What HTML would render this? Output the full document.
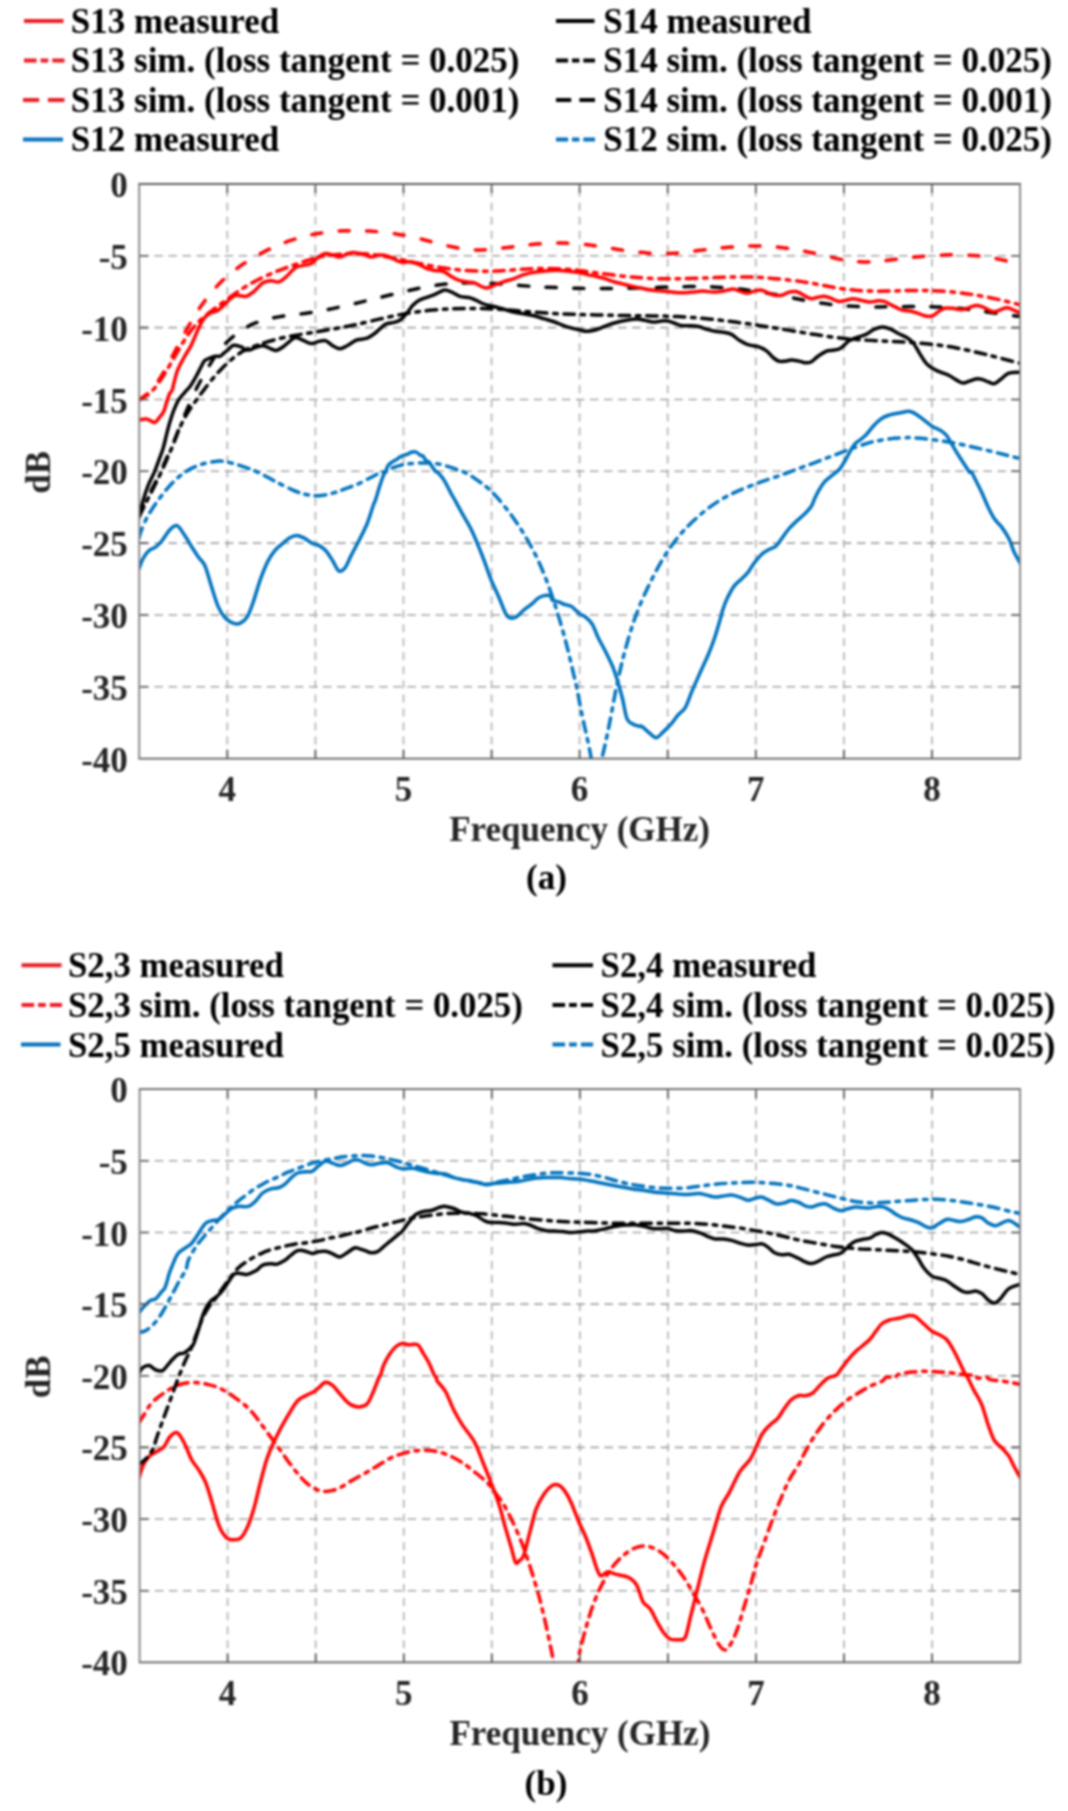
<!DOCTYPE html>
<html><head><meta charset="utf-8"><style>html,body{margin:0;padding:0;background:#fff;overflow:hidden}svg{display:block;filter:blur(0.8px)}</style></head><body>
<svg width="1068" height="1811" viewBox="0 0 1068 1811">
<rect width="1068" height="1811" fill="#fff"/>
<path d="M24,20.9 H63.5" stroke="#ed1c24" stroke-width="4"/>
<text x="70.8" y="32.6" font-family="Liberation Serif" font-weight="bold" font-size="35" fill="#000">S13 measured</text>
<path d="M24,60.5 h12.6 M40.6,60.5 h7.7 M52.3,60.5 h12.2" stroke="#ed1c24" stroke-width="4"/>
<text x="70.8" y="72.1" font-family="Liberation Serif" font-weight="bold" font-size="35" fill="#000">S13 sim. (loss tangent = 0.025)</text>
<path d="M23,99.9 h16.2 M47.9,99.9 h16.6" stroke="#ed1c24" stroke-width="4"/>
<text x="70.8" y="111.7" font-family="Liberation Serif" font-weight="bold" font-size="35" fill="#000">S13 sim. (loss tangent = 0.001)</text>
<path d="M23,139.4 H63" stroke="#0571bd" stroke-width="4"/>
<text x="70.8" y="151.2" font-family="Liberation Serif" font-weight="bold" font-size="35" fill="#000">S12 measured</text>
<path d="M556,20.9 H594.5" stroke="#000" stroke-width="4"/>
<text x="603.2" y="32.6" font-family="Liberation Serif" font-weight="bold" font-size="35" fill="#000">S14 measured</text>
<path d="M556,60.5 h12.1 M572.0,60.5 h7.4 M583.3,60.5 h11.7" stroke="#000" stroke-width="4"/>
<text x="603.2" y="72.1" font-family="Liberation Serif" font-weight="bold" font-size="35" fill="#000">S14 sim. (loss tangent = 0.025)</text>
<path d="M556,99.9 h15.2 M579.4,99.9 h15.6" stroke="#000" stroke-width="4"/>
<text x="603.2" y="111.7" font-family="Liberation Serif" font-weight="bold" font-size="35" fill="#000">S14 sim. (loss tangent = 0.001)</text>
<path d="M556,139.4 h12.1 M572.0,139.4 h7.4 M583.3,139.4 h11.7" stroke="#0571bd" stroke-width="4"/>
<text x="603.2" y="151.2" font-family="Liberation Serif" font-weight="bold" font-size="35" fill="#000">S12 sim. (loss tangent = 0.025)</text>
<path d="M227.3,758.6 V184.0 M315.4,758.6 V184.0 M403.5,758.6 V184.0 M491.6,758.6 V184.0 M579.6,758.6 V184.0 M667.7,758.6 V184.0 M755.8,758.6 V184.0 M843.9,758.6 V184.0 M932.0,758.6 V184.0" stroke="#bcbcbc" stroke-width="1.9" stroke-dasharray="8 6.05" fill="none"/>
<path d="M139.2,255.8 H1020.1 M139.2,327.6 H1020.1 M139.2,399.5 H1020.1 M139.2,471.3 H1020.1 M139.2,543.1 H1020.1 M139.2,615.0 H1020.1 M139.2,686.8 H1020.1" stroke="#a4a4a4" stroke-width="1.6" stroke-dasharray="8.5 5.55" stroke-dashoffset="-1.2" fill="none"/>
<clipPath id="ca"><rect x="139.2" y="184.0" width="880.9000000000001" height="574.6"/></clipPath>
<g clip-path="url(#ca)" fill="none">
<path d="M139.0,537.9C139.4,536.6 140.0,533.6 141.3,530.3C142.6,527.0 144.8,521.8 146.7,518.0C148.6,514.3 150.7,511.2 152.9,507.8C155.1,504.4 157.6,501.0 159.9,497.9C162.2,494.7 164.4,491.9 166.8,489.1C169.2,486.2 172.0,483.2 174.6,480.7C177.2,478.2 179.7,476.0 182.3,474.1C184.9,472.2 187.2,470.6 190.0,469.1C192.8,467.6 196.2,466.1 199.3,465.0C202.4,463.9 205.3,463.2 208.6,462.6C211.9,461.9 216.9,461.3 219.0,461.1C221.1,460.9 220.0,460.9 221.4,461.1C222.8,461.3 224.8,461.5 227.6,462.1C230.3,462.7 234.1,463.7 237.9,464.8C241.7,466.0 247.4,468.0 250.2,469.0C252.9,470.0 252.3,469.7 254.4,470.7C256.5,471.6 260.6,473.5 262.6,474.6C264.7,475.6 264.6,475.6 266.7,476.8C268.8,477.9 272.9,480.2 275.0,481.3C277.1,482.4 277.1,482.3 279.1,483.4C281.2,484.4 285.2,486.5 287.3,487.5C289.4,488.5 289.3,488.5 291.4,489.4C293.5,490.3 297.6,492.1 299.7,492.8C301.8,493.6 301.8,493.6 303.8,494.1C305.9,494.5 309.9,495.3 312.0,495.6C314.1,495.9 314.1,495.8 316.2,495.8C318.3,495.7 322.3,495.3 324.4,495.1C326.4,494.8 326.4,494.8 328.5,494.3C330.6,493.8 334.7,492.6 336.8,492.0C338.9,491.4 338.8,491.3 340.9,490.5C342.9,489.8 347.1,488.1 349.1,487.4C351.2,486.6 351.6,486.5 353.2,485.9C354.8,485.2 356.3,484.8 359.0,483.6C361.7,482.3 366.2,479.9 369.3,478.3C372.4,476.7 375.8,474.7 377.5,473.9C379.2,473.0 377.9,473.6 379.6,473.1C381.3,472.5 386.1,471.2 387.8,470.5C389.5,469.9 389.2,469.7 389.9,469.3C390.6,468.9 390.3,468.8 392.0,468.1C393.7,467.5 398.1,466.0 400.2,465.4C402.2,464.8 402.6,464.8 404.3,464.5C406.0,464.2 407.8,463.8 410.5,463.6C413.2,463.3 417.4,463.0 420.8,462.9C424.2,462.9 428.4,463.0 431.1,463.1C433.9,463.3 435.6,463.5 437.3,463.8C439.0,464.0 439.0,464.0 441.4,464.6C443.8,465.3 448.3,466.5 451.7,467.6C455.1,468.7 459.9,470.5 462.0,471.3C464.1,472.0 462.4,471.3 464.1,472.2C465.8,473.1 470.6,475.7 472.3,476.7C474.0,477.7 472.7,476.8 474.4,478.1C476.1,479.3 480.6,482.5 482.6,484.0C484.7,485.6 485.3,486.0 486.7,487.1C488.1,488.3 488.7,488.7 490.8,490.8C492.9,492.9 495.7,495.7 499.1,499.7C502.5,503.8 507.6,510.1 511.4,515.2C515.2,520.3 518.6,525.6 521.7,530.4C524.8,535.3 527.2,539.5 530.0,544.5C532.8,549.5 535.5,554.6 538.2,560.6C541.0,566.6 544.0,574.0 546.5,580.4C549.0,586.8 551.4,593.9 553.1,599.0C554.8,604.1 555.6,606.8 556.9,610.8C558.1,614.9 559.4,618.9 560.6,623.1C561.8,627.4 563.2,632.2 564.3,636.2C565.4,640.2 566.2,643.4 567.2,647.2C568.2,650.9 569.1,654.8 570.0,658.6C570.9,662.5 571.9,666.6 572.8,670.6C573.7,674.6 574.8,679.1 575.6,682.6C576.4,686.0 576.9,688.4 577.5,691.4C578.1,694.5 578.7,697.7 579.3,701.0C579.9,704.2 580.4,707.1 581.2,710.9C582.0,714.8 583.1,719.8 584.0,724.0C584.9,728.3 585.9,732.1 586.8,736.3C587.7,740.6 588.9,746.1 589.6,749.6C590.3,753.1 590.4,753.1 591.0,757.3C591.6,761.5 591.5,772.0 593.0,775.0C594.5,778.0 598.5,777.6 600.0,775.0C601.5,772.4 601.0,763.9 601.8,759.2C602.6,754.5 603.7,751.2 604.6,746.9C605.5,742.7 606.5,738.4 607.4,733.9C608.3,729.4 609.3,724.7 610.2,719.9C611.1,715.1 612.1,710.0 613.0,705.1C613.9,700.2 614.8,695.2 615.8,690.4C616.8,685.6 617.8,680.8 618.7,676.4C619.7,672.1 620.6,668.2 621.5,664.3C622.4,660.5 623.2,657.4 624.3,653.3C625.4,649.3 626.8,644.3 628.0,640.0C629.2,635.7 630.5,631.4 631.8,627.5C633.0,623.6 634.0,620.6 635.5,616.6C637.0,612.6 638.7,608.0 640.6,603.4C642.5,598.9 644.9,593.6 646.9,589.4C648.9,585.2 650.6,581.7 652.5,578.0C654.4,574.4 656.2,570.8 658.1,567.3C660.0,563.9 661.8,560.6 663.7,557.6C665.6,554.5 667.2,551.9 669.3,548.9C671.4,545.9 673.9,542.4 676.3,539.4C678.6,536.4 681.0,533.5 683.4,530.9C685.8,528.3 687.6,526.4 690.4,523.7C693.2,521.0 697.2,517.4 700.2,514.8C703.2,512.2 705.4,510.3 708.7,507.9C712.0,505.5 716.2,502.6 719.9,500.3C723.6,498.0 727.4,496.0 731.1,494.2C734.9,492.3 738.6,490.7 742.4,489.1C746.1,487.5 749.9,486.1 753.6,484.7C757.3,483.3 761.1,481.9 764.8,480.6C768.5,479.3 773.6,477.6 776.0,476.8C778.4,476.0 777.3,476.4 779.4,475.7C781.5,474.9 785.6,473.4 788.7,472.3C791.8,471.1 795.0,469.9 798.1,468.8C801.2,467.6 804.4,466.4 807.5,465.3C810.6,464.1 813.7,463.0 816.8,461.9C819.9,460.7 823.1,459.5 826.2,458.3C829.3,457.1 832.4,455.9 835.5,454.7C838.6,453.5 841.8,452.3 844.9,451.1C848.0,449.9 851.2,448.8 854.3,447.7C857.4,446.6 861.0,445.4 863.6,444.5C866.2,443.6 868.3,443.0 870.0,442.5C871.7,442.0 872.4,441.8 873.8,441.5C875.2,441.2 875.7,441.1 878.5,440.7C881.3,440.2 887.8,439.2 890.5,438.8C893.2,438.4 892.2,438.5 895.0,438.3C897.8,438.1 904.8,437.7 907.1,437.6C909.4,437.4 906.2,437.4 909.0,437.6C911.8,437.7 918.5,438.1 923.7,438.6C928.9,439.2 934.8,439.8 940.3,440.7C945.8,441.5 951.5,442.5 957.0,443.6C962.5,444.7 968.1,445.9 973.6,447.2C979.1,448.4 984.7,449.8 990.2,451.1C995.8,452.5 1001.8,454.0 1006.9,455.3C1012.0,456.6 1018.6,458.2 1021.0,458.8" stroke="#0072bd" stroke-width="3.5" stroke-linejoin="round" stroke-linecap="round" stroke-dasharray="10.6 6.7 3.6 6.7"/>
<path d="M139.0,568.8C139.7,567.1 141.4,561.6 143.1,558.5C144.8,555.4 147.2,552.2 149.3,550.3C151.4,548.4 153.4,548.8 155.5,547.2C157.6,545.7 159.3,543.9 161.7,541.0C164.1,538.1 167.3,532.3 169.9,529.7C172.5,527.1 174.7,524.8 177.1,525.6C179.5,526.5 181.7,531.0 184.3,534.8C186.9,538.6 190.2,544.4 192.6,548.2C195.0,552.0 196.6,554.6 198.7,557.5C200.8,560.4 202.8,561.1 204.9,565.7C207.0,570.3 208.9,578.4 211.1,585.3C213.3,592.2 215.9,601.4 218.3,606.9C220.7,612.4 222.9,615.5 225.5,618.3C228.1,621.0 231.4,622.5 233.8,623.4C236.2,624.2 237.7,624.4 239.9,623.4C242.1,622.4 244.9,620.8 247.1,617.2C249.3,613.6 251.1,608.1 253.3,601.8C255.5,595.4 258.1,585.8 260.5,579.1C262.9,572.4 265.3,566.4 267.7,561.6C270.1,556.8 272.4,553.4 275.0,550.3C277.6,547.2 280.8,545.2 283.2,543.1C285.6,541.0 287.2,539.2 289.4,537.9C291.6,536.6 294.2,535.4 296.6,535.4C299.0,535.4 301.2,536.6 303.8,537.9C306.4,539.2 309.6,541.9 312.0,543.1C314.4,544.3 316.0,543.9 318.2,545.1C320.4,546.3 323.0,547.7 325.4,550.3C327.8,552.9 330.4,557.2 332.6,560.6C334.8,564.0 336.7,569.7 338.8,570.9C340.9,572.1 342.9,570.4 345.0,567.8C347.1,565.2 348.9,559.9 351.2,555.4C353.5,550.9 356.3,545.8 359.0,540.5C361.7,535.2 364.8,529.4 367.2,523.5C369.6,517.6 372.0,508.9 373.4,505.0C374.8,501.1 374.5,503.0 375.5,499.9C376.5,496.8 378.2,490.7 379.6,486.4C381.0,482.2 382.7,477.0 383.7,474.6C384.7,472.2 385.1,473.4 385.8,472.0C386.5,470.6 386.8,467.5 387.8,465.9C388.8,464.2 390.6,463.1 392.0,462.1C393.4,461.1 394.7,460.6 396.1,459.7C397.5,458.8 398.8,457.6 400.2,456.9C401.6,456.1 402.9,455.7 404.3,455.2C405.7,454.7 407.4,454.3 408.4,453.9C409.4,453.4 409.3,452.8 410.5,452.5C411.7,452.2 413.9,451.3 415.6,451.9C417.3,452.4 419.6,454.9 420.8,455.6C422.0,456.3 421.9,454.9 422.9,455.9C423.9,456.9 426.0,460.8 427.0,461.8C428.0,462.8 427.6,460.6 429.0,462.1C430.4,463.6 433.8,469.4 435.2,471.0C436.6,472.6 435.9,470.6 437.3,472.0C438.7,473.4 441.4,476.1 443.5,479.2C445.6,482.4 448.2,488.0 449.6,490.6C451.0,493.2 450.8,493.1 451.7,494.7C452.6,496.2 453.1,496.8 454.8,499.9C456.5,503.0 459.1,507.9 462.0,513.2C464.9,518.5 468.9,524.5 472.3,531.7C475.7,538.9 479.5,548.6 482.6,556.5C485.7,564.4 488.1,572.2 490.8,579.1C493.6,586.0 496.4,591.5 499.1,597.7C501.9,603.9 504.6,613.0 507.3,616.2C510.1,619.5 512.9,618.2 515.6,617.2C518.4,616.2 521.1,612.2 523.8,610.0C526.5,607.8 529.6,605.8 532.0,603.8C534.4,601.8 536.1,599.5 538.2,598.1C540.3,596.7 542.3,596.0 544.4,595.6C546.5,595.2 549.3,595.3 550.6,596.0C551.9,596.7 550.9,599.0 552.2,600.0C553.6,601.0 556.5,601.1 558.7,601.9C560.9,602.7 563.1,603.9 565.3,604.7C567.5,605.5 569.5,605.1 571.8,606.6C574.1,608.1 576.9,611.8 579.3,613.6C581.6,615.4 583.7,615.5 585.9,617.3C588.1,619.1 590.4,620.9 592.4,624.3C594.4,627.7 595.9,633.0 598.1,637.5C600.3,642.0 603.0,646.5 605.5,651.5C608.0,656.5 611.0,662.4 613.0,667.4C615.0,672.4 616.1,676.4 617.7,681.5C619.3,686.6 620.8,692.1 622.4,698.3C624.0,704.5 625.2,714.5 627.1,718.9C629.0,723.3 631.5,723.2 633.6,724.5C635.8,725.8 638.6,726.1 640.0,726.4C641.4,726.7 640.3,725.4 641.8,726.4C643.3,727.4 646.6,730.7 649.0,732.6C651.4,734.5 653.8,737.9 656.2,737.7C658.6,737.5 660.9,734.0 663.5,731.6C666.1,729.2 669.3,726.0 671.7,723.3C674.1,720.5 675.7,717.7 677.9,715.1C680.1,712.5 682.7,712.0 685.1,707.9C687.5,703.8 689.7,696.4 692.3,690.4C694.9,684.4 697.8,678.0 700.5,671.8C703.2,665.6 706.4,659.1 708.8,653.3C711.2,647.5 713.0,643.0 715.0,636.8C717.0,630.6 719.8,620.7 721.1,616.2C722.4,611.7 721.7,612.9 722.7,610.0C723.7,607.1 725.0,602.9 726.9,599.0C728.8,595.1 731.5,589.7 733.9,586.4C736.2,583.1 738.6,581.7 741.0,579.4C743.4,577.1 745.9,575.0 748.0,572.4C750.1,569.8 751.3,566.9 753.6,563.9C755.9,560.9 759.4,556.6 762.0,554.1C764.6,551.6 767.2,550.5 769.5,549.2C771.8,547.9 773.6,547.9 775.6,546.3C777.6,544.7 779.0,542.2 781.2,539.3C783.4,536.4 786.2,532.0 788.7,529.0C791.2,526.0 793.6,524.0 796.2,521.5C798.9,519.0 802.1,516.5 804.6,514.0C807.1,511.5 809.5,509.1 811.2,506.5C812.9,503.9 813.6,500.8 814.9,498.1C816.1,495.5 817.1,493.3 818.7,490.6C820.3,487.9 822.1,484.6 824.3,482.1C826.5,479.6 829.3,477.7 831.8,475.6C834.3,473.5 837.3,471.7 839.3,469.5C841.3,467.3 842.4,465.1 844.0,462.5C845.6,459.9 847.3,456.5 848.7,454.0C850.1,451.5 851.2,449.4 852.4,447.5C853.6,445.6 854.9,444.1 856.1,442.8C857.4,441.6 858.3,441.3 859.9,440.0C861.5,438.7 863.5,437.5 865.9,435.1C868.2,432.6 871.3,428.1 874.1,425.2C876.8,422.4 879.6,419.7 882.4,418.0C885.1,416.2 887.9,415.5 890.7,414.6C893.5,413.8 897.4,413.3 899.1,413.0C900.8,412.7 899.2,413.0 900.9,412.7C902.6,412.4 906.7,411.1 909.1,411.2C911.5,411.4 913.0,412.3 915.4,413.7C917.8,415.1 920.9,417.8 923.7,419.9C926.5,422.0 929.2,424.5 932.0,426.2C934.8,427.9 937.9,428.8 940.3,430.3C942.7,431.9 944.5,432.9 946.6,435.5C948.7,438.1 950.7,442.4 952.8,445.9C954.9,449.4 957.0,453.0 959.1,456.3C961.2,459.6 963.6,463.1 965.3,465.7C967.0,468.3 968.4,470.9 969.4,472.0C970.4,473.1 970.5,470.7 971.5,472.1C972.5,473.5 974.0,476.9 975.7,480.3C977.4,483.8 979.8,488.3 981.9,492.8C984.0,497.3 986.1,503.0 988.2,507.3C990.3,511.6 992.1,515.5 994.4,518.8C996.6,522.1 999.3,523.8 1001.7,527.1C1004.1,530.4 1006.8,534.4 1008.9,538.5C1011.0,542.6 1012.1,547.7 1014.1,552.0C1016.1,556.3 1019.9,562.4 1021.0,564.5" stroke="#0072bd" stroke-width="3.5" stroke-linejoin="round" stroke-linecap="round"/>
<path d="M139.0,515.2C140.0,513.0 143.1,506.4 145.2,502.2C147.3,498.0 149.3,494.1 151.4,490.0C153.5,486.0 155.8,481.6 157.6,477.9C159.4,474.3 160.7,471.5 162.2,468.2C163.7,464.8 165.2,461.3 166.8,457.8C168.4,454.3 170.1,450.4 171.5,447.1C172.9,443.8 174.0,441.2 175.3,438.1C176.6,434.9 178.4,430.2 179.2,428.2C180.0,426.2 179.0,428.5 180.0,426.1C181.0,423.8 183.3,418.1 185.0,414.3C186.7,410.4 188.2,406.8 190.0,402.8C191.8,398.9 194.0,393.8 195.5,390.6C197.0,387.4 197.8,386.0 199.0,383.7C200.2,381.3 201.2,379.7 203.0,376.6C204.8,373.5 207.5,368.6 209.7,364.9C211.9,361.2 213.8,358.0 216.4,354.5C219.0,350.9 222.0,347.1 225.4,343.6C228.8,340.2 232.9,336.6 236.7,333.7C240.5,330.9 244.6,328.4 248.2,326.4C251.8,324.4 254.7,323.2 258.5,321.9C262.3,320.6 266.7,319.4 270.8,318.4C274.9,317.5 279.1,316.8 283.2,316.1C287.3,315.4 291.5,315.0 295.6,314.5C299.7,314.0 303.8,313.6 307.9,313.0C312.0,312.5 316.2,311.9 320.3,311.1C324.4,310.4 328.5,309.5 332.6,308.6C336.7,307.7 340.6,306.8 345.0,305.8C349.4,304.8 354.6,303.6 359.0,302.6C363.4,301.5 366.9,300.7 371.4,299.6C375.9,298.5 381.0,297.2 385.8,296.0C390.6,294.8 395.4,293.6 400.2,292.5C405.0,291.3 409.8,290.2 414.6,289.2C419.4,288.2 424.2,287.2 429.0,286.4C433.8,285.6 439.0,284.9 443.5,284.3C448.0,283.8 451.4,283.5 455.8,283.2C460.2,283.0 465.1,282.8 470.2,282.8C475.3,282.8 481.2,282.9 486.7,283.1C492.2,283.3 497.7,283.7 503.2,284.1C508.7,284.5 514.6,285.0 519.7,285.4C524.9,285.8 529.3,286.2 534.1,286.5C538.9,286.8 543.4,287.0 548.5,287.3C553.6,287.5 559.9,287.7 565.0,287.9C570.1,288.1 574.3,288.2 579.0,288.3C583.7,288.4 588.6,288.4 593.4,288.5C598.2,288.5 603.0,288.5 607.8,288.5C612.6,288.5 617.5,288.4 622.3,288.3C627.1,288.2 631.9,288.1 636.7,288.0C641.5,287.9 646.0,287.7 651.1,287.6C656.2,287.4 662.5,287.2 667.6,287.1C672.8,286.9 676.9,286.8 682.0,286.7C687.1,286.6 693.4,286.6 698.5,286.6C703.6,286.6 708.1,286.7 712.9,286.9C717.7,287.1 722.5,287.4 727.3,287.8C732.1,288.2 737.6,288.8 741.7,289.3C745.8,289.8 748.2,290.2 752.0,290.7C755.8,291.3 760.3,292.0 764.4,292.7C768.5,293.4 772.7,294.1 776.8,294.8C780.9,295.6 785.4,296.5 789.1,297.2C792.8,297.9 795.3,298.5 799.0,299.2C802.7,299.9 806.6,300.8 811.5,301.6C816.4,302.4 822.6,303.4 828.1,304.1C833.6,304.8 839.2,305.4 844.7,305.8C850.2,306.2 855.9,306.5 861.4,306.7C866.9,306.9 872.8,306.9 878.0,306.9C883.2,306.9 887.3,306.8 892.5,306.8C897.7,306.7 904.0,306.6 909.2,306.6C914.4,306.6 918.5,306.6 923.7,306.7C928.9,306.7 934.8,306.8 940.3,307.1C945.8,307.3 951.5,307.7 957.0,308.2C962.5,308.7 968.1,309.4 973.6,310.1C979.1,310.8 984.0,311.5 990.2,312.4C996.4,313.2 1005.9,314.6 1011.0,315.3C1016.1,316.0 1019.3,316.4 1021.0,316.6" stroke="#000000" stroke-width="3.5" stroke-linejoin="round" stroke-linecap="round" stroke-dasharray="10.2 17.4"/>
<path d="M139.0,516.8C140.2,514.4 143.8,506.9 146.0,502.6C148.2,498.2 150.0,494.7 152.1,490.6C154.2,486.5 156.5,482.0 158.3,478.2C160.1,474.5 161.4,471.5 163.0,468.1C164.6,464.7 166.1,461.3 167.6,457.8C169.1,454.2 170.8,450.3 172.2,446.9C173.6,443.4 174.8,440.2 176.1,437.0C177.4,433.7 178.5,430.6 180.0,427.3C181.5,424.0 183.2,420.3 185.0,417.2C186.8,414.0 188.6,411.3 190.5,408.4C192.4,405.5 194.4,402.9 196.6,399.8C198.8,396.8 201.1,393.6 203.7,390.1C206.3,386.7 209.3,382.7 212.3,379.2C215.3,375.6 218.4,372.1 221.7,368.7C225.0,365.3 229.1,361.5 232.2,358.9C235.2,356.3 237.9,354.4 240.0,353.0C242.1,351.5 243.2,351.0 244.9,350.1C246.6,349.3 248.8,348.3 250.0,347.8C251.2,347.3 250.2,347.6 252.3,346.9C254.4,346.1 258.8,344.5 262.6,343.3C266.4,342.1 270.9,340.7 275.0,339.7C279.1,338.6 283.2,337.7 287.3,336.8C291.4,336.0 295.6,335.3 299.7,334.6C303.8,333.8 307.9,333.3 312.0,332.6C316.1,331.9 320.3,331.2 324.4,330.5C328.5,329.8 332.7,329.1 336.8,328.3C340.9,327.5 345.4,326.7 349.1,326.0C352.8,325.2 355.3,324.7 359.0,323.9C362.7,323.1 366.9,322.1 371.4,321.0C375.9,320.0 381.0,318.7 385.8,317.6C390.6,316.6 395.1,315.6 400.2,314.6C405.3,313.6 411.2,312.6 416.7,311.9C422.2,311.1 427.7,310.5 433.2,310.0C438.7,309.5 444.1,309.2 449.6,308.9C455.1,308.7 460.6,308.5 466.1,308.4C471.6,308.4 477.1,308.4 482.6,308.5C488.1,308.7 493.6,309.0 499.1,309.3C504.6,309.6 510.1,310.1 515.6,310.6C521.1,311.0 526.5,311.6 532.0,312.0C537.5,312.4 543.0,312.8 548.5,313.2C554.0,313.5 559.9,313.8 565.0,314.0C570.1,314.2 573.9,314.3 579.0,314.5C584.1,314.6 590.0,314.8 595.5,314.9C601.0,315.0 606.5,315.2 612.0,315.3C617.5,315.4 622.9,315.6 628.4,315.6C633.9,315.7 639.4,315.7 644.9,315.8C650.4,315.9 655.9,315.9 661.4,316.0C666.9,316.1 672.4,316.3 677.9,316.6C683.4,316.8 688.9,317.2 694.4,317.6C699.9,318.1 705.3,318.6 710.8,319.2C716.3,319.7 721.8,320.4 727.3,321.0C732.8,321.7 738.3,322.5 743.8,323.2C749.3,324.0 754.8,324.8 760.3,325.7C765.8,326.5 770.3,327.3 776.8,328.3C783.2,329.3 792.5,330.9 799.0,331.9C805.5,333.0 810.1,333.8 815.6,334.6C821.1,335.5 826.8,336.4 832.3,337.1C837.8,337.8 843.4,338.5 848.9,339.0C854.4,339.5 860.0,339.8 865.5,340.1C871.0,340.5 876.6,340.7 882.1,340.9C887.6,341.2 893.2,341.4 898.8,341.7C904.3,342.0 909.9,342.3 915.4,342.8C920.9,343.2 926.5,343.7 932.0,344.3C937.5,345.0 943.2,345.7 948.7,346.6C954.2,347.5 959.8,348.6 965.3,349.7C970.8,350.9 976.3,352.2 981.9,353.5C987.5,354.8 992.1,356.0 998.6,357.7C1005.1,359.4 1017.3,362.6 1021.0,363.6" stroke="#000000" stroke-width="3.5" stroke-linejoin="round" stroke-linecap="round" stroke-dasharray="10.6 6.7 3.6 6.7"/>
<path d="M139.0,517.6C139.8,514.5 142.0,504.4 143.6,499.0C145.2,493.6 146.5,489.6 148.3,485.1C150.1,480.6 152.7,476.1 154.5,471.9C156.3,467.6 157.7,463.5 159.1,459.6C160.5,455.8 161.8,452.7 163.0,448.8C164.2,444.9 165.1,440.4 166.1,436.4C167.1,432.4 168.1,428.4 169.1,424.8C170.1,421.2 171.3,417.4 172.2,414.7C173.1,412.0 173.6,410.7 174.5,408.6C175.4,406.5 176.5,403.8 177.5,401.9C178.5,400.0 179.2,399.0 180.5,397.4C181.8,395.8 183.4,394.1 185.0,392.2C186.6,390.3 188.7,388.2 190.2,386.2C191.7,384.2 192.8,382.3 194.0,380.2C195.2,378.1 196.4,375.8 197.7,373.4C198.9,371.0 200.4,368.1 201.5,366.0C202.6,363.9 203.2,361.9 204.5,360.7C205.8,359.4 207.5,359.2 209.0,358.5C210.5,357.8 212.2,357.0 213.4,356.6C214.6,356.2 215.3,356.3 216.4,356.2C217.5,356.1 218.9,356.7 220.2,356.2C221.4,355.7 222.5,354.3 223.9,353.2C225.3,352.1 226.9,350.8 228.4,349.5C229.9,348.2 231.4,346.0 232.9,345.4C234.4,344.8 235.9,345.4 237.4,345.7C238.9,346.0 240.7,346.6 241.9,347.2C243.2,347.8 243.6,349.1 244.9,349.5C246.2,349.9 248.4,350.2 250.0,349.9C251.6,349.6 252.3,348.5 254.4,347.8C256.5,347.1 260.2,345.7 262.6,345.7C265.0,345.7 266.6,347.0 268.8,347.8C271.0,348.6 273.6,350.6 276.0,350.4C278.4,350.2 281.0,348.2 283.2,346.7C285.4,345.2 287.3,343.1 289.4,341.6C291.5,340.1 293.2,337.7 295.6,337.5C298.0,337.3 301.2,339.6 303.8,340.6C306.4,341.6 308.6,343.4 311.0,343.6C313.4,343.8 315.8,342.1 318.2,341.6C320.6,341.1 323.0,339.9 325.4,340.6C327.8,341.3 330.2,344.3 332.6,345.7C335.0,347.1 337.4,348.8 339.8,348.8C342.2,348.8 344.5,347.1 347.1,345.7C349.7,344.3 353.3,341.6 355.3,340.6C357.3,339.6 357.0,339.9 359.0,339.5C361.0,339.1 364.8,339.0 367.2,338.1C369.6,337.2 371.3,335.9 373.4,334.4C375.5,332.9 377.5,330.9 379.6,329.2C381.7,327.5 383.4,325.2 385.8,324.1C388.2,323.0 391.6,323.1 394.0,322.4C396.4,321.7 398.1,321.4 400.2,320.0C402.3,318.6 404.3,316.2 406.4,313.8C408.5,311.4 410.6,307.7 412.6,305.5C414.7,303.3 416.3,301.8 418.7,300.4C421.1,299.0 424.6,298.2 427.0,297.3C429.4,296.4 430.8,296.2 433.2,295.2C435.6,294.2 439.3,292.0 441.4,291.1C443.4,290.2 443.8,289.9 445.5,290.1C447.2,290.3 449.3,291.1 451.7,292.1C454.1,293.1 456.8,295.3 459.9,296.3C463.0,297.3 467.4,297.2 470.2,297.9C472.9,298.6 474.3,299.5 476.4,300.4C478.5,301.3 480.5,302.6 482.6,303.5C484.7,304.4 486.4,304.9 488.8,305.5C491.2,306.1 494.2,306.5 497.0,307.2C499.8,307.9 502.6,308.9 505.3,309.7C508.1,310.5 510.4,311.4 513.5,312.1C516.6,312.8 520.4,313.2 523.8,313.8C527.2,314.4 530.7,315.0 534.1,315.8C537.5,316.6 541.0,317.9 544.4,318.9C547.8,319.9 551.3,320.8 554.7,322.0C558.1,323.2 561.0,324.8 565.0,326.1C569.0,327.4 575.3,328.9 579.0,329.8C582.7,330.6 584.1,331.4 587.2,331.3C590.3,331.2 594.1,330.2 597.5,329.2C600.9,328.2 604.4,326.3 607.8,325.1C611.2,323.9 614.7,322.9 618.1,322.0C621.5,321.1 625.3,320.5 628.4,320.0C631.5,319.5 634.0,318.8 636.7,318.9C639.5,319.0 642.1,319.9 644.9,320.4C647.6,320.9 650.5,321.9 653.2,322.0C656.0,322.1 659.0,321.2 661.4,321.0C663.8,320.8 665.5,320.7 667.6,321.0C669.7,321.3 671.4,322.2 673.8,323.0C676.2,323.8 679.3,325.2 682.0,325.7C684.7,326.1 687.5,325.6 690.2,325.7C693.0,325.8 695.8,325.9 698.5,326.5C701.2,327.1 704.0,328.4 706.7,329.2C709.5,330.0 712.2,330.8 715.0,331.3C717.8,331.8 720.5,331.8 723.2,332.3C725.9,332.8 728.6,333.0 731.4,334.4C734.1,335.8 737.0,338.9 739.7,340.6C742.5,342.3 744.8,343.7 747.9,344.7C751.0,345.7 755.1,345.7 758.2,346.7C761.3,347.7 764.1,349.2 766.5,350.9C768.9,352.6 770.6,355.3 772.6,357.0C774.6,358.7 776.7,360.5 778.8,361.2C780.9,361.9 782.9,361.4 785.0,361.2C787.1,361.0 788.9,360.1 791.2,360.1C793.5,360.1 796.7,360.7 799.0,361.1C801.3,361.6 803.1,362.7 805.2,362.8C807.3,362.9 809.4,362.8 811.5,361.7C813.6,360.6 815.3,358.2 817.7,356.5C820.1,354.8 823.6,352.3 826.0,351.3C828.4,350.3 829.9,350.8 832.3,350.3C834.7,349.8 837.8,349.8 840.6,348.2C843.4,346.6 846.1,342.7 848.9,340.9C851.7,339.1 854.4,338.4 857.2,337.4C860.0,336.4 862.7,336.0 865.5,334.7C868.3,333.4 871.0,330.8 873.8,329.5C876.6,328.2 879.3,327.1 882.1,327.0C884.9,326.9 887.7,328.0 890.5,329.1C893.3,330.2 896.0,332.2 898.8,333.7C901.6,335.1 904.7,336.2 907.1,337.8C909.5,339.4 911.2,340.4 913.3,343.0C915.4,345.6 917.5,350.1 919.6,353.4C921.7,356.7 923.7,360.4 925.8,362.8C927.9,365.2 929.6,366.4 932.0,368.0C934.4,369.6 937.5,370.9 940.3,372.1C943.1,373.3 945.9,373.8 948.7,375.2C951.5,376.6 954.6,379.1 957.0,380.4C959.4,381.7 961.1,383.0 963.2,383.1C965.3,383.2 967.3,381.8 969.4,381.1C971.5,380.4 973.6,379.3 975.7,379.0C977.8,378.7 979.8,378.9 981.9,379.4C984.0,379.9 986.1,381.2 988.2,381.9C990.3,382.6 992.3,384.0 994.4,383.6C996.5,383.2 998.2,381.1 1000.6,379.4C1003.0,377.7 1005.5,374.4 1008.9,373.2C1012.3,372.0 1019.0,372.3 1021.0,372.1" stroke="#000000" stroke-width="3.5" stroke-linejoin="round" stroke-linecap="round"/>
<path d="M139.0,399.9C140.4,398.9 144.4,396.4 147.2,393.9C149.9,391.3 152.8,388.4 155.5,384.8C158.2,381.2 160.9,376.8 163.7,372.1C166.4,367.5 169.2,362.0 172.0,356.9C174.8,351.8 177.5,346.4 180.2,341.3C182.9,336.2 185.7,331.2 188.4,326.4C191.2,321.7 193.9,316.9 196.7,312.6C199.4,308.3 201.8,304.8 204.9,300.7C208.0,296.6 211.8,291.9 215.2,288.1C218.6,284.3 222.1,280.8 225.5,277.7C228.9,274.6 232.0,272.1 235.8,269.3C239.6,266.4 243.7,263.6 248.2,260.9C252.7,258.1 257.8,255.1 262.6,252.6C267.4,250.1 272.2,247.7 277.0,245.7C281.8,243.6 286.6,241.8 291.4,240.2C296.2,238.6 301.4,237.1 305.9,236.0C310.4,234.9 313.8,234.2 318.2,233.5C322.6,232.7 328.1,232.0 332.6,231.5C337.1,231.1 340.6,230.9 345.0,230.7C349.4,230.6 354.9,230.6 359.0,230.7C363.1,230.8 365.5,230.9 369.3,231.1C373.1,231.4 377.2,231.6 381.7,232.1C386.2,232.6 391.7,233.2 396.1,233.9C400.6,234.6 403.9,235.2 408.4,236.1C412.9,237.1 418.4,238.4 422.9,239.5C427.4,240.6 430.8,241.6 435.2,242.7C439.6,243.8 444.8,245.2 449.6,246.3C454.4,247.3 459.3,248.3 464.1,248.9C468.9,249.5 474.1,249.9 478.5,250.0C482.9,250.0 486.0,249.8 490.8,249.4C495.6,249.0 502.1,248.1 507.3,247.4C512.5,246.8 516.9,246.1 521.7,245.6C526.5,245.0 531.1,244.5 536.2,244.1C541.4,243.7 547.8,243.3 552.6,243.1C557.4,243.0 560.6,243.0 565.0,243.1C569.4,243.3 574.6,243.6 579.0,243.9C583.4,244.2 587.3,244.7 591.4,245.2C595.5,245.7 599.2,246.3 603.7,247.0C608.2,247.7 613.6,248.7 618.1,249.4C622.6,250.1 625.7,250.6 630.5,251.3C635.3,251.9 641.9,252.6 647.0,253.0C652.1,253.4 656.9,253.6 661.4,253.6C665.9,253.7 669.7,253.5 673.8,253.3C677.9,253.0 681.3,252.6 686.1,252.0C690.9,251.5 697.8,250.5 702.6,250.0C707.4,249.4 710.2,249.0 715.0,248.5C719.8,248.0 726.6,247.4 731.4,247.0C736.2,246.7 739.3,246.5 743.8,246.3C748.3,246.1 753.7,245.9 758.2,245.9C762.7,246.0 766.1,246.1 770.6,246.4C775.1,246.8 780.3,247.4 785.0,248.0C789.7,248.6 794.6,249.4 799.0,250.2C803.4,251.0 807.0,251.7 811.5,252.7C816.0,253.6 821.1,254.9 826.0,256.0C830.9,257.2 836.1,258.5 840.6,259.4C845.1,260.3 848.1,261.0 853.0,261.4C857.9,261.8 864.9,262.0 869.7,262.0C874.6,261.9 877.6,261.5 882.1,261.0C886.6,260.6 891.9,259.7 896.7,259.1C901.6,258.5 906.0,257.9 911.2,257.4C916.4,256.9 922.4,256.3 927.9,255.9C933.4,255.5 939.0,255.2 944.5,255.0C950.0,254.9 955.6,254.7 961.1,254.9C966.6,255.0 972.6,255.3 977.8,255.8C983.0,256.3 987.4,257.0 992.3,257.9C997.1,258.7 1002.1,259.9 1006.9,261.0C1011.7,262.1 1018.6,263.8 1021.0,264.4" stroke="#ff0000" stroke-width="3.5" stroke-linejoin="round" stroke-linecap="round" stroke-dasharray="10.2 17.4"/>
<path d="M139.0,399.9C140.4,399.1 144.4,397.3 147.2,395.2C149.9,393.1 152.8,390.4 155.5,387.1C158.2,383.8 160.9,379.7 163.7,375.4C166.4,371.1 169.2,366.0 172.0,361.3C174.8,356.6 177.5,351.6 180.2,347.0C182.9,342.5 185.7,338.0 188.4,334.1C191.2,330.3 193.9,326.8 196.7,323.8C199.4,320.8 202.2,318.5 204.9,316.1C207.7,313.8 210.4,311.7 213.2,309.6C215.9,307.5 218.7,305.5 221.4,303.5C224.1,301.5 226.8,299.4 229.6,297.4C232.3,295.4 234.8,293.7 237.9,291.6C241.0,289.6 244.8,287.2 248.2,285.1C251.6,283.1 254.7,281.4 258.5,279.5C262.3,277.6 266.7,275.6 270.8,273.8C274.9,272.0 279.1,270.4 283.2,268.9C287.3,267.3 291.5,265.8 295.6,264.4C299.7,262.9 304.1,261.4 307.9,260.3C311.7,259.1 314.8,258.2 318.2,257.4C321.6,256.6 324.0,256.1 328.5,255.5C333.0,254.9 339.9,254.2 345.0,253.9C350.1,253.6 354.6,253.4 359.0,253.5C363.4,253.6 367.3,254.0 371.4,254.4C375.5,254.9 378.9,255.4 383.7,256.3C388.5,257.1 394.7,258.4 400.2,259.5C405.7,260.6 411.2,261.9 416.7,263.0C422.2,264.1 427.7,265.3 433.2,266.2C438.7,267.2 444.1,268.1 449.6,268.8C455.1,269.5 460.6,270.1 466.1,270.5C471.6,270.9 477.8,271.1 482.6,271.2C487.4,271.3 490.9,271.2 495.0,271.1C499.1,270.9 502.5,270.7 507.3,270.4C512.1,270.1 518.3,269.5 523.8,269.2C529.3,268.9 534.8,268.6 540.3,268.5C545.8,268.4 551.6,268.5 556.8,268.7C561.9,268.8 567.5,269.3 571.2,269.6C574.9,269.9 576.3,270.1 579.0,270.4C581.7,270.8 583.8,271.1 587.2,271.6C590.6,272.0 595.1,272.7 599.6,273.3C604.1,273.9 608.9,274.5 614.0,275.1C619.1,275.7 625.0,276.4 630.5,276.9C636.0,277.4 641.2,277.9 647.0,278.2C652.8,278.5 659.7,278.7 665.5,278.8C671.3,278.9 676.5,278.8 682.0,278.7C687.5,278.6 693.0,278.4 698.5,278.2C704.0,278.0 709.5,277.8 715.0,277.6C720.5,277.4 725.9,277.2 731.4,277.1C736.9,277.0 743.1,276.9 747.9,277.0C752.7,277.0 756.2,277.2 760.3,277.4C764.4,277.7 768.5,278.1 772.6,278.4C776.7,278.8 780.6,279.1 785.0,279.6C789.4,280.1 794.6,280.6 799.0,281.2C803.4,281.8 807.4,282.4 811.5,283.2C815.6,283.9 819.0,284.7 823.9,285.5C828.8,286.4 835.0,287.7 840.6,288.5C846.2,289.3 851.7,290.0 857.2,290.4C862.7,290.8 868.2,291.0 873.8,291.1C879.3,291.3 885.0,291.1 890.5,291.0C896.0,290.9 901.6,290.7 907.1,290.6C912.6,290.5 918.2,290.3 923.7,290.4C929.2,290.5 934.8,290.6 940.3,291.0C945.8,291.3 951.5,291.8 957.0,292.4C962.5,293.0 968.1,293.8 973.6,294.7C979.1,295.6 984.7,296.6 990.2,297.7C995.8,298.9 1001.8,300.3 1006.9,301.5C1012.0,302.7 1018.6,304.4 1021.0,305.0" stroke="#ff0000" stroke-width="3.5" stroke-linejoin="round" stroke-linecap="round" stroke-dasharray="10.6 6.7 3.6 6.7"/>
<path d="M139.0,420.1C140.3,419.9 144.1,418.6 146.7,419.0C149.3,419.4 152.4,422.7 154.5,422.5C156.6,422.3 157.6,419.6 159.1,417.8C160.6,416.0 162.4,414.3 163.7,411.6C165.0,408.9 165.8,404.7 166.8,401.6C167.8,398.5 169.0,395.0 169.9,393.1C170.8,391.2 171.0,393.6 172.2,390.0C173.4,386.4 175.1,377.0 177.1,371.5C179.1,366.0 181.9,361.5 184.3,357.0C186.7,352.5 189.3,349.1 191.5,344.7C193.7,340.2 195.8,334.4 197.7,330.3C199.6,326.2 201.0,322.8 202.9,320.0C204.8,317.2 206.6,315.4 209.0,313.8C211.4,312.2 214.9,312.1 217.3,310.7C219.7,309.3 221.4,307.4 223.5,305.5C225.6,303.6 227.5,301.1 229.6,299.4C231.7,297.7 233.1,295.7 235.8,295.2C238.6,294.7 243.0,297.0 246.1,296.3C249.2,295.6 251.7,293.3 254.4,291.1C257.2,288.9 259.9,284.6 262.6,282.9C265.3,281.2 268.1,281.0 270.8,280.8C273.6,280.6 276.4,282.7 279.1,281.8C281.9,280.9 284.6,278.1 287.3,275.7C290.1,273.3 292.9,269.1 295.6,267.4C298.4,265.7 301.1,266.1 303.8,265.4C306.5,264.7 309.6,264.7 312.0,263.3C314.4,261.9 316.0,258.7 318.2,257.1C320.4,255.5 323.0,253.9 325.4,253.6C327.8,253.3 330.2,254.5 332.6,255.1C335.0,255.7 337.4,257.3 339.8,257.1C342.2,256.9 344.9,254.8 347.1,254.0C349.3,253.2 351.2,252.7 353.2,252.6C355.2,252.5 357.0,253.1 359.0,253.5C361.0,253.9 363.1,254.5 365.2,255.1C367.3,255.7 369.0,257.1 371.4,257.1C373.8,257.1 376.9,255.3 379.6,255.1C382.3,254.9 385.1,255.3 387.8,256.1C390.6,257.0 393.7,259.2 396.1,260.2C398.5,261.2 399.9,262.0 402.3,262.3C404.7,262.6 407.8,261.6 410.5,261.9C413.2,262.2 415.9,263.2 418.7,264.3C421.4,265.4 424.2,267.5 427.0,268.5C429.8,269.5 432.4,270.0 435.2,270.5C437.9,271.0 440.8,270.5 443.5,271.5C446.2,272.5 449.3,275.3 451.7,276.7C454.1,278.1 455.5,278.9 457.9,279.8C460.3,280.7 463.4,281.3 466.1,281.8C468.9,282.3 472.0,282.2 474.4,282.9C476.8,283.6 478.4,285.1 480.5,286.0C482.6,286.9 484.3,288.2 486.7,288.0C489.1,287.8 492.2,285.9 495.0,284.9C497.8,283.9 500.1,282.8 503.2,281.8C506.3,280.8 510.1,280.0 513.5,278.8C516.9,277.6 520.7,275.6 523.8,274.6C526.9,273.6 529.2,273.1 532.0,272.6C534.8,272.1 537.2,271.9 540.3,271.5C543.4,271.1 547.2,270.7 550.6,270.5C554.0,270.3 557.5,270.3 560.9,270.5C564.3,270.7 568.2,271.1 571.2,271.5C574.2,271.9 576.3,272.1 579.0,272.6C581.7,273.1 584.1,273.9 587.2,274.6C590.3,275.3 594.4,276.0 597.5,276.7C600.6,277.4 603.0,277.9 605.8,278.8C608.5,279.7 611.2,281.0 614.0,281.8C616.8,282.6 619.5,283.2 622.3,283.9C625.0,284.6 627.4,285.3 630.5,286.0C633.6,286.7 637.4,287.3 640.8,288.0C644.2,288.7 647.7,289.6 651.1,290.1C654.5,290.6 658.0,290.8 661.4,291.1C664.8,291.4 668.3,291.8 671.7,292.1C675.1,292.4 678.6,292.8 682.0,292.8C685.4,292.8 688.9,292.4 692.3,292.1C695.7,291.8 699.2,291.1 702.6,291.1C706.0,291.1 709.8,292.0 712.9,292.1C716.0,292.2 718.7,291.8 721.1,291.5C723.5,291.2 725.2,290.5 727.3,290.1C729.4,289.7 731.4,288.9 733.5,289.1C735.6,289.3 737.5,290.4 739.7,291.1C741.9,291.8 744.5,293.2 746.9,293.2C749.3,293.2 751.7,291.6 754.1,291.1C756.5,290.6 758.9,289.8 761.3,290.1C763.7,290.5 766.3,292.4 768.5,293.2C770.7,294.0 772.5,294.9 774.7,295.2C776.9,295.5 779.5,295.7 781.9,295.2C784.3,294.7 786.9,292.7 789.1,292.1C791.3,291.5 793.6,291.4 795.3,291.5C796.9,291.6 797.4,291.9 799.0,292.6C800.6,293.4 803.1,295.2 805.2,296.2C807.3,297.2 809.4,298.5 811.5,298.7C813.6,298.9 815.6,297.7 817.7,297.3C819.8,296.9 821.8,296.1 823.9,296.2C826.0,296.3 827.8,297.0 830.2,297.9C832.6,298.8 835.7,301.0 838.5,301.4C841.3,301.8 844.4,300.4 846.8,300.0C849.2,299.6 850.6,298.6 853.0,298.7C855.4,298.8 858.6,299.8 861.4,300.4C864.2,301.0 866.9,302.0 869.7,302.1C872.5,302.2 875.6,300.9 878.0,300.8C880.4,300.7 882.1,300.8 884.2,301.4C886.3,302.0 888.4,303.6 890.5,304.6C892.6,305.7 894.6,306.7 896.7,307.7C898.8,308.7 900.5,309.8 902.9,310.4C905.3,311.0 908.4,310.6 911.2,311.2C914.0,311.8 917.2,313.1 919.6,313.9C922.0,314.7 923.7,315.6 925.8,316.0C927.9,316.4 929.9,316.7 932.0,316.0C934.1,315.3 936.2,313.1 938.3,311.8C940.4,310.5 942.1,308.9 944.5,308.3C946.9,307.7 950.0,308.1 952.8,308.3C955.6,308.6 958.7,309.8 961.1,309.8C963.5,309.8 965.0,309.0 967.4,308.3C969.8,307.6 973.3,305.9 975.7,305.6C978.1,305.3 979.8,305.9 981.9,306.6C984.0,307.3 986.1,308.9 988.2,309.8C990.3,310.7 992.3,311.8 994.4,311.8C996.5,311.8 998.5,310.5 1000.6,309.8C1002.7,309.1 1004.8,307.7 1006.9,307.7C1009.0,307.7 1010.8,308.9 1013.1,309.8C1015.5,310.7 1019.7,312.7 1021.0,313.3" stroke="#ff0000" stroke-width="3.5" stroke-linejoin="round" stroke-linecap="round"/>
</g>
<path d="M227.3,758.6 v-9 M227.3,184.0 v9 M315.4,758.6 v-9 M315.4,184.0 v9 M403.5,758.6 v-9 M403.5,184.0 v9 M491.6,758.6 v-9 M491.6,184.0 v9 M579.6,758.6 v-9 M579.6,184.0 v9 M667.7,758.6 v-9 M667.7,184.0 v9 M755.8,758.6 v-9 M755.8,184.0 v9 M843.9,758.6 v-9 M843.9,184.0 v9 M932.0,758.6 v-9 M932.0,184.0 v9 M139.2,255.8 h9 M1020.1,255.8 h-9 M139.2,327.6 h9 M1020.1,327.6 h-9 M139.2,399.5 h9 M1020.1,399.5 h-9 M139.2,471.3 h9 M1020.1,471.3 h-9 M139.2,543.1 h9 M1020.1,543.1 h-9 M139.2,615.0 h9 M1020.1,615.0 h-9 M139.2,686.8 h9 M1020.1,686.8 h-9" stroke="#555" stroke-width="1.6" fill="none"/>
<path d="M138.29999999999998,184.0 H1021.0 M138.29999999999998,758.6 H1021.0" fill="none" stroke="#5e5e5e" stroke-width="1.8"/>
<path d="M139.2,184.0 V758.6 M1020.1,184.0 V758.6" fill="none" stroke="#858585" stroke-width="1.9"/>
<text x="227.3" y="801.3" text-anchor="middle" font-family="Liberation Serif" font-weight="bold" font-size="35" fill="#262626">4</text>
<text x="403.5" y="801.3" text-anchor="middle" font-family="Liberation Serif" font-weight="bold" font-size="35" fill="#262626">5</text>
<text x="579.6" y="801.3" text-anchor="middle" font-family="Liberation Serif" font-weight="bold" font-size="35" fill="#262626">6</text>
<text x="755.8" y="801.3" text-anchor="middle" font-family="Liberation Serif" font-weight="bold" font-size="35" fill="#262626">7</text>
<text x="932.0" y="801.3" text-anchor="middle" font-family="Liberation Serif" font-weight="bold" font-size="35" fill="#262626">8</text>
<text x="127.8" y="197.0" text-anchor="end" font-family="Liberation Serif" font-weight="bold" font-size="35" fill="#262626">0</text>
<text x="127.8" y="268.8" text-anchor="end" font-family="Liberation Serif" font-weight="bold" font-size="35" fill="#262626">-5</text>
<text x="127.8" y="340.6" text-anchor="end" font-family="Liberation Serif" font-weight="bold" font-size="35" fill="#262626">-10</text>
<text x="127.8" y="412.5" text-anchor="end" font-family="Liberation Serif" font-weight="bold" font-size="35" fill="#262626">-15</text>
<text x="127.8" y="484.3" text-anchor="end" font-family="Liberation Serif" font-weight="bold" font-size="35" fill="#262626">-20</text>
<text x="127.8" y="556.1" text-anchor="end" font-family="Liberation Serif" font-weight="bold" font-size="35" fill="#262626">-25</text>
<text x="127.8" y="628.0" text-anchor="end" font-family="Liberation Serif" font-weight="bold" font-size="35" fill="#262626">-30</text>
<text x="127.8" y="699.8" text-anchor="end" font-family="Liberation Serif" font-weight="bold" font-size="35" fill="#262626">-35</text>
<text x="127.8" y="771.6" text-anchor="end" font-family="Liberation Serif" font-weight="bold" font-size="35" fill="#262626">-40</text>
<text x="579.6" y="840.5" text-anchor="middle" font-family="Liberation Serif" font-weight="bold" font-size="35" fill="#262626">Frequency (GHz)</text>
<text transform="translate(49.8,472.3) rotate(-90)" text-anchor="middle" font-family="Liberation Serif" font-weight="bold" font-size="35" fill="#262626">dB</text>
<text x="546.5" y="889" text-anchor="middle" font-family="Liberation Serif" font-weight="bold" font-size="35" fill="#000">(a)</text>
<path d="M21.5,965.3 H61.5" stroke="#ed1c24" stroke-width="4"/>
<text x="68" y="977.2" font-family="Liberation Serif" font-weight="bold" font-size="34.8" fill="#000">S2,3 measured</text>
<path d="M21.5,1004.9 h12.6 M38.1,1004.9 h7.7 M49.8,1004.9 h12.2" stroke="#ed1c24" stroke-width="4"/>
<text x="68" y="1016.9" font-family="Liberation Serif" font-weight="bold" font-size="34.8" fill="#000">S2,3 sim. (loss tangent = 0.025)</text>
<path d="M21,1044.4 H60.5" stroke="#0571bd" stroke-width="4"/>
<text x="68" y="1056.6" font-family="Liberation Serif" font-weight="bold" font-size="34.8" fill="#000">S2,5 measured</text>
<path d="M552.5,965.3 H593" stroke="#000" stroke-width="4"/>
<text x="600.6" y="977.2" font-family="Liberation Serif" font-weight="bold" font-size="34.8" fill="#000">S2,4 measured</text>
<path d="M552.5,1004.9 h12.6 M569.1,1004.9 h7.7 M580.9,1004.9 h12.2" stroke="#000" stroke-width="4"/>
<text x="600.6" y="1016.9" font-family="Liberation Serif" font-weight="bold" font-size="34.8" fill="#000">S2,4 sim. (loss tangent = 0.025)</text>
<path d="M552.5,1044.4 h12.6 M569.1,1044.4 h7.7 M580.9,1044.4 h12.2" stroke="#0571bd" stroke-width="4"/>
<text x="600.6" y="1056.6" font-family="Liberation Serif" font-weight="bold" font-size="34.8" fill="#000">S2,5 sim. (loss tangent = 0.025)</text>
<path d="M227.6,1662.3 V1089.2 M315.7,1662.3 V1089.2 M403.8,1662.3 V1089.2 M491.8,1662.3 V1089.2 M579.9,1662.3 V1089.2 M667.9,1662.3 V1089.2 M756.0,1662.3 V1089.2 M844.0,1662.3 V1089.2 M932.1,1662.3 V1089.2" stroke="#bcbcbc" stroke-width="1.9" stroke-dasharray="8 6.05" fill="none"/>
<path d="M139.6,1160.8 H1020.1 M139.6,1232.5 H1020.1 M139.6,1304.1 H1020.1 M139.6,1375.8 H1020.1 M139.6,1447.4 H1020.1 M139.6,1519.0 H1020.1 M139.6,1590.7 H1020.1" stroke="#a4a4a4" stroke-width="1.6" stroke-dasharray="8.5 5.55" stroke-dashoffset="-1.2" fill="none"/>
<clipPath id="cb"><rect x="139.6" y="1089.2" width="880.5" height="573.0999999999999"/></clipPath>
<g clip-path="url(#cb)" fill="none">
<path d="M139.0,1422.8C139.9,1421.3 142.7,1416.8 144.6,1413.8C146.5,1410.8 148.1,1407.4 150.2,1404.8C152.3,1402.2 154.6,1400.1 157.0,1398.1C159.4,1396.0 162.2,1394.3 164.8,1392.5C167.4,1390.7 169.9,1388.8 172.7,1387.4C175.5,1386.0 178.7,1384.8 181.7,1384.0C184.7,1383.2 187.7,1382.8 190.7,1382.6C193.7,1382.4 196.7,1382.6 199.7,1382.9C202.7,1383.2 205.7,1383.8 208.7,1384.6C211.7,1385.3 214.7,1386.2 217.7,1387.4C220.7,1388.6 223.6,1390.1 226.6,1391.9C229.6,1393.7 232.6,1395.9 235.6,1398.1C238.6,1400.2 241.8,1402.4 244.6,1404.8C247.4,1407.2 250.1,1410.0 252.5,1412.7C254.9,1415.4 256.6,1417.9 259.0,1421.1C261.4,1424.2 264.0,1427.9 266.7,1431.6C269.4,1435.2 272.2,1439.2 275.0,1443.0C277.8,1446.8 280.5,1450.5 283.2,1454.3C285.9,1458.1 288.6,1462.0 291.4,1465.6C294.1,1469.2 296.9,1472.8 299.7,1475.9C302.4,1479.0 305.1,1482.0 307.9,1484.2C310.6,1486.4 313.4,1488.1 316.2,1489.3C318.9,1490.5 321.7,1491.2 324.4,1491.4C327.1,1491.6 329.9,1491.1 332.6,1490.4C335.4,1489.7 338.1,1488.7 340.9,1487.3C343.6,1485.9 346.1,1483.9 349.1,1482.1C352.1,1480.3 355.6,1478.3 359.0,1476.5C362.4,1474.6 365.9,1472.8 369.3,1470.8C372.7,1468.8 376.2,1466.7 379.6,1464.6C383.0,1462.5 386.5,1460.1 389.9,1458.4C393.3,1456.7 396.4,1455.5 400.2,1454.3C404.0,1453.1 408.5,1451.9 412.6,1451.2C416.7,1450.5 420.8,1450.1 424.9,1450.2C429.0,1450.3 433.2,1450.7 437.3,1451.6C441.4,1452.5 445.5,1453.9 449.6,1455.7C453.7,1457.5 457.9,1459.8 462.0,1462.5C466.1,1465.2 470.3,1468.5 474.4,1471.8C478.5,1475.1 483.3,1478.7 486.7,1482.1C490.1,1485.5 492.2,1488.8 495.0,1492.4C497.8,1496.0 500.5,1499.2 503.2,1503.7C505.9,1508.2 508.6,1513.5 511.4,1519.2C514.1,1524.9 517.3,1531.9 519.7,1537.7C522.1,1543.5 523.9,1548.4 525.9,1554.2C527.9,1560.0 530.0,1566.3 532.0,1572.8C534.0,1579.3 536.1,1585.9 538.2,1593.4C540.3,1601.0 542.3,1609.2 544.4,1618.1C546.5,1627.0 549.0,1639.4 550.6,1646.9C552.2,1654.4 553.0,1658.5 553.7,1663.0C554.4,1667.5 550.8,1671.9 554.7,1673.7C558.6,1675.5 572.9,1676.8 576.9,1673.7C580.9,1670.6 577.6,1662.3 579.0,1655.1C580.4,1647.9 583.1,1638.0 585.2,1630.4C587.3,1622.9 589.0,1616.7 591.4,1609.8C593.8,1602.9 596.5,1595.7 599.6,1589.2C602.7,1582.7 606.5,1575.9 609.9,1570.7C613.3,1565.5 616.4,1561.9 620.2,1558.3C624.0,1554.7 628.8,1551.1 632.6,1549.1C636.4,1547.0 639.5,1546.2 642.9,1546.0C646.3,1545.8 649.8,1546.6 653.2,1548.0C656.6,1549.4 660.1,1551.5 663.5,1554.2C666.9,1557.0 670.4,1560.5 673.8,1564.5C677.2,1568.5 680.9,1573.1 684.1,1577.9C687.4,1582.7 690.2,1588.1 693.3,1593.4C696.4,1598.7 699.7,1604.0 702.6,1609.8C705.5,1615.6 708.0,1622.6 710.8,1628.4C713.5,1634.2 716.7,1641.3 719.1,1644.9C721.5,1648.5 723.2,1650.3 725.3,1650.0C727.3,1649.7 729.3,1646.4 731.4,1642.8C733.5,1639.2 735.5,1634.2 737.6,1628.4C739.7,1622.6 741.7,1614.7 743.8,1607.8C745.9,1600.9 747.9,1594.4 750.0,1587.2C752.1,1580.0 753.8,1572.0 756.2,1564.5C758.6,1557.0 761.7,1549.5 764.4,1541.9C767.1,1534.4 769.9,1526.4 772.6,1519.2C775.4,1512.0 778.1,1505.1 780.9,1498.6C783.6,1492.1 786.1,1485.9 789.1,1480.1C792.1,1474.3 796.3,1468.7 799.0,1464.0C801.7,1459.3 802.8,1456.3 805.2,1451.9C807.6,1447.5 810.5,1442.2 813.6,1437.4C816.7,1432.6 820.5,1427.1 823.9,1422.8C827.3,1418.5 830.8,1414.9 834.3,1411.4C837.8,1407.9 840.9,1405.0 844.7,1402.0C848.5,1399.0 853.0,1396.3 857.2,1393.7C861.4,1391.1 865.6,1388.5 869.7,1386.4C873.9,1384.3 879.3,1382.8 882.1,1381.2C884.9,1379.7 884.2,1377.7 886.3,1377.1C888.4,1376.5 892.5,1378.0 894.6,1377.5C896.7,1377.0 896.0,1375.1 898.8,1374.2C901.6,1373.3 907.1,1372.6 911.2,1372.1C915.4,1371.6 919.5,1371.4 923.7,1371.3C927.9,1371.2 932.0,1371.5 936.2,1371.7C940.4,1371.9 944.6,1372.3 948.7,1372.7C952.9,1373.1 957.0,1373.8 961.1,1374.2C965.2,1374.7 970.8,1374.8 973.6,1375.4C976.4,1376.1 975.7,1377.8 977.8,1378.1C979.9,1378.4 984.0,1376.8 986.1,1377.1C988.2,1377.3 987.4,1378.9 990.2,1379.6C993.0,1380.3 998.9,1380.7 1002.7,1381.2C1006.5,1381.8 1010.1,1382.3 1013.1,1382.9C1016.1,1383.5 1019.7,1384.3 1021.0,1384.6" stroke="#ff0000" stroke-width="3.5" stroke-linejoin="round" stroke-linecap="round" stroke-dasharray="10.6 6.7 3.6 6.7"/>
<path d="M139.0,1478.0C139.7,1475.9 141.4,1469.2 143.1,1465.6C144.8,1462.0 147.2,1458.6 149.3,1456.4C151.4,1454.2 153.1,1453.8 155.5,1452.2C157.9,1450.7 161.3,1449.7 163.7,1447.1C166.1,1444.5 167.7,1439.2 169.9,1436.8C172.1,1434.4 174.7,1431.7 177.1,1432.7C179.5,1433.7 181.9,1438.5 184.3,1443.0C186.7,1447.5 189.1,1455.0 191.5,1459.5C193.9,1464.0 196.3,1465.9 198.7,1469.8C201.1,1473.7 203.7,1477.6 205.9,1483.1C208.1,1488.6 209.9,1495.5 212.1,1502.7C214.3,1509.9 216.9,1520.6 219.3,1526.4C221.7,1532.2 224.1,1535.5 226.5,1537.7C228.9,1539.9 231.4,1539.8 233.8,1539.8C236.2,1539.8 238.6,1540.1 241.0,1537.7C243.4,1535.3 246.0,1530.6 248.2,1525.4C250.4,1520.2 252.3,1514.0 254.4,1506.8C256.4,1499.6 258.4,1490.0 260.5,1482.1C262.6,1474.2 264.6,1465.8 266.7,1459.5C268.8,1453.2 270.5,1449.3 272.9,1444.0C275.3,1438.7 278.4,1432.7 281.1,1427.5C283.9,1422.3 286.6,1417.6 289.4,1413.1C292.1,1408.6 294.9,1403.6 297.6,1400.7C300.4,1397.8 303.1,1397.1 305.9,1395.6C308.6,1394.1 311.7,1393.0 314.1,1391.5C316.5,1390.0 318.4,1387.8 320.3,1386.3C322.2,1384.8 323.3,1382.4 325.4,1382.2C327.4,1382.0 330.4,1383.6 332.6,1385.3C334.8,1387.0 336.7,1390.1 338.8,1392.5C340.9,1394.9 342.9,1397.6 345.0,1399.7C347.1,1401.8 348.9,1403.7 351.2,1404.9C353.5,1406.1 356.3,1407.1 359.0,1406.9C361.7,1406.7 364.8,1406.4 367.2,1403.8C369.6,1401.2 371.4,1396.0 373.4,1391.5C375.4,1387.0 377.9,1379.8 379.1,1377.0C380.3,1374.3 379.8,1377.0 380.6,1375.0C381.4,1373.0 382.1,1368.5 383.7,1365.0C385.2,1361.5 387.8,1356.8 389.9,1353.7C392.0,1350.6 394.0,1348.2 396.1,1346.5C398.2,1344.8 400.2,1343.7 402.3,1343.4C404.4,1343.1 405.8,1344.6 408.4,1344.8C411.0,1345.0 415.3,1343.5 417.7,1344.8C420.1,1346.1 421.0,1349.7 422.9,1352.7C424.8,1355.7 427.1,1359.3 429.0,1363.0C430.9,1366.7 433.0,1372.7 434.2,1375.0C435.4,1377.3 435.7,1376.0 436.2,1377.0C436.7,1378.0 435.8,1378.8 437.3,1381.2C438.9,1383.6 442.8,1386.7 445.5,1391.5C448.2,1396.3 451.1,1404.5 453.8,1410.0C456.6,1415.5 458.6,1419.1 462.0,1424.4C465.4,1429.7 471.0,1435.7 474.4,1441.9C477.8,1448.1 479.9,1454.8 482.6,1461.5C485.3,1468.2 488.1,1474.9 490.8,1482.1C493.6,1489.3 496.7,1497.2 499.1,1504.8C501.5,1512.3 503.2,1520.2 505.3,1527.4C507.4,1534.6 509.7,1542.2 511.4,1548.0C513.1,1553.8 514.2,1560.4 515.6,1562.5C517.0,1564.6 518.3,1561.6 519.7,1560.4C521.1,1559.2 522.1,1560.0 523.8,1555.2C525.5,1550.4 527.9,1539.3 530.0,1531.6C532.1,1523.9 533.8,1515.3 536.2,1508.9C538.6,1502.5 541.7,1497.4 544.4,1493.4C547.1,1489.5 550.2,1486.6 552.6,1485.2C555.0,1483.8 556.7,1484.2 558.8,1485.2C560.9,1486.2 562.9,1488.5 565.0,1491.4C567.1,1494.3 568.9,1497.5 571.2,1502.7C573.5,1507.9 576.7,1516.8 579.0,1522.3C581.3,1527.8 583.1,1530.7 585.2,1535.7C587.3,1540.7 589.0,1545.7 591.4,1552.2C593.8,1558.7 596.9,1571.5 599.6,1574.8C602.3,1578.0 605.0,1571.8 607.8,1571.7C610.5,1571.6 612.7,1573.5 616.1,1574.4C619.5,1575.3 625.0,1575.5 628.4,1577.3C631.8,1579.1 634.3,1581.0 636.7,1585.1C639.1,1589.1 640.7,1597.6 642.9,1601.6C645.1,1605.5 647.7,1605.4 650.1,1608.8C652.5,1612.2 655.1,1618.2 657.3,1622.2C659.5,1626.2 661.5,1629.8 663.5,1632.5C665.5,1635.2 667.2,1637.5 669.6,1638.7C672.0,1639.9 675.3,1639.9 677.9,1639.7C680.5,1639.5 683.0,1641.2 685.1,1637.6C687.2,1634.0 688.3,1625.5 690.2,1618.1C692.1,1610.7 694.0,1603.0 696.4,1593.4C698.8,1583.8 702.0,1570.4 704.7,1560.4C707.5,1550.4 710.2,1542.5 712.9,1533.6C715.6,1524.7 718.4,1513.7 721.1,1506.8C723.9,1499.9 726.3,1498.2 729.4,1492.4C732.5,1486.6 736.3,1477.3 739.7,1471.8C743.1,1466.3 747.2,1463.6 750.0,1459.5C752.8,1455.4 754.2,1451.4 756.2,1447.1C758.2,1442.8 759.9,1437.5 762.3,1433.7C764.7,1429.9 768.0,1427.0 770.6,1424.4C773.2,1421.8 775.6,1420.9 777.8,1418.3C780.0,1415.7 781.8,1412.1 784.0,1409.0C786.2,1405.9 788.7,1402.0 791.2,1399.7C793.7,1397.5 796.7,1396.2 799.0,1395.5C801.3,1394.8 803.0,1396.2 805.2,1395.8C807.5,1395.4 810.1,1395.0 812.5,1393.3C814.9,1391.6 817.3,1387.9 819.8,1385.4C822.3,1382.9 825.2,1379.7 827.6,1378.2C830.0,1376.6 832.8,1376.5 834.3,1376.0C835.8,1375.5 835.7,1375.5 836.4,1375.0C837.1,1374.5 836.8,1375.0 838.5,1372.7C840.2,1370.4 844.0,1364.8 846.8,1361.3C849.6,1357.8 852.7,1354.3 855.1,1351.9C857.5,1349.5 859.0,1348.9 861.4,1346.8C863.8,1344.7 867.3,1342.1 869.7,1339.5C872.1,1336.9 873.8,1333.9 875.9,1331.2C878.0,1328.5 879.7,1325.4 882.1,1323.5C884.5,1321.6 887.7,1320.6 890.5,1319.7C893.3,1318.8 895.7,1319.0 898.8,1318.3C901.9,1317.6 906.4,1315.9 909.2,1315.6C912.0,1315.3 913.0,1315.2 915.4,1316.6C917.8,1318.0 920.9,1321.5 923.7,1323.9C926.5,1326.3 929.2,1329.3 932.0,1331.2C934.8,1333.1 937.9,1333.9 940.3,1335.3C942.7,1336.7 944.5,1337.2 946.6,1339.5C948.7,1341.8 950.7,1345.2 952.8,1348.8C954.9,1352.4 957.0,1357.0 959.1,1361.3C961.2,1365.6 963.9,1371.8 965.3,1374.4C966.7,1377.0 966.0,1374.6 967.4,1377.1C968.8,1379.6 971.2,1384.9 973.6,1389.6C976.0,1394.3 979.5,1399.2 981.9,1405.1C984.3,1411.0 986.1,1419.0 988.2,1424.9C990.3,1430.8 992.0,1436.5 994.4,1440.5C996.8,1444.5 1000.3,1446.2 1002.7,1448.8C1005.1,1451.4 1007.0,1453.1 1008.9,1456.1C1010.8,1459.0 1012.1,1462.7 1014.1,1466.5C1016.1,1470.3 1019.9,1476.8 1021.0,1478.9" stroke="#ff0000" stroke-width="3.5" stroke-linejoin="round" stroke-linecap="round"/>
<path d="M139.0,1464.6C140.4,1463.4 144.8,1460.2 147.2,1457.4C149.6,1454.7 151.9,1451.0 153.4,1448.1C154.9,1445.2 154.8,1443.5 155.9,1440.0C157.1,1436.5 158.8,1431.5 160.3,1427.3C161.8,1423.1 163.3,1419.0 164.8,1414.9C166.3,1410.8 167.8,1406.7 169.3,1402.6C170.8,1398.5 172.3,1394.3 173.8,1390.2C175.3,1386.1 176.8,1381.8 178.3,1377.9C179.8,1374.0 181.5,1369.8 182.8,1366.6C184.1,1363.4 185.1,1361.2 186.2,1358.8C187.3,1356.4 188.7,1354.1 189.6,1352.0C190.5,1349.9 190.9,1348.8 191.8,1346.4C192.7,1344.0 194.1,1340.4 195.2,1337.4C196.3,1334.4 197.5,1331.4 198.6,1328.4C199.7,1325.4 200.8,1322.0 201.9,1319.4C203.0,1316.8 204.2,1314.8 205.3,1312.7C206.4,1310.7 207.6,1308.8 208.7,1307.1C209.8,1305.4 210.9,1304.0 212.0,1302.6C213.1,1301.2 213.8,1300.8 215.4,1298.7C217.0,1296.6 219.0,1293.2 221.4,1289.8C223.8,1286.4 226.8,1282.1 229.6,1278.5C232.3,1274.9 235.2,1271.0 237.9,1268.2C240.7,1265.5 243.3,1263.9 246.1,1262.0C248.8,1260.1 251.7,1258.4 254.4,1256.9C257.2,1255.4 259.9,1254.0 262.6,1252.8C265.3,1251.6 268.1,1250.6 270.8,1249.7C273.6,1248.8 276.4,1248.3 279.1,1247.6C281.9,1246.9 284.6,1246.2 287.3,1245.6C290.1,1245.0 292.9,1244.3 295.6,1243.9C298.4,1243.5 301.1,1243.4 303.8,1243.1C306.5,1242.8 309.2,1242.2 312.0,1241.8C314.8,1241.3 317.6,1241.0 320.3,1240.4C323.1,1239.8 325.8,1238.9 328.5,1238.3C331.2,1237.7 334.1,1237.5 336.8,1236.9C339.6,1236.3 342.3,1235.5 345.0,1234.8C347.7,1234.1 350.9,1233.3 353.2,1232.8C355.5,1232.3 356.0,1232.5 359.0,1231.7C362.0,1230.9 367.3,1229.1 371.4,1228.0C375.5,1226.9 379.6,1226.0 383.7,1225.0C387.8,1224.0 392.0,1222.9 396.1,1221.9C400.2,1220.9 404.3,1219.7 408.4,1218.8C412.5,1217.9 416.7,1217.3 420.8,1216.7C424.9,1216.1 429.1,1215.6 433.2,1215.1C437.3,1214.6 441.4,1213.9 445.5,1213.6C449.6,1213.3 453.8,1213.3 457.9,1213.2C462.0,1213.1 466.1,1213.1 470.2,1213.2C474.3,1213.3 478.5,1213.5 482.6,1213.8C486.7,1214.1 490.9,1214.7 495.0,1215.1C499.1,1215.5 503.2,1215.9 507.3,1216.3C511.4,1216.7 515.6,1217.2 519.7,1217.7C523.8,1218.2 527.9,1218.8 532.0,1219.2C536.1,1219.6 540.3,1219.9 544.4,1220.2C548.5,1220.5 552.7,1220.9 556.8,1221.2C560.9,1221.5 565.4,1221.7 569.1,1221.9C572.8,1222.1 575.3,1222.1 579.0,1222.2C582.7,1222.3 587.3,1222.4 591.4,1222.5C595.5,1222.6 599.6,1222.8 603.7,1222.9C607.8,1223.0 612.0,1223.2 616.1,1223.3C620.2,1223.4 624.3,1223.3 628.4,1223.3C632.5,1223.3 636.7,1223.3 640.8,1223.3C644.9,1223.3 649.1,1223.3 653.2,1223.3C657.3,1223.3 661.4,1223.3 665.5,1223.3C669.6,1223.3 673.8,1223.3 677.9,1223.3C682.0,1223.3 686.1,1223.2 690.2,1223.3C694.3,1223.4 698.5,1223.6 702.6,1223.9C706.7,1224.2 710.9,1224.5 715.0,1225.0C719.1,1225.5 723.2,1226.1 727.3,1226.6C731.4,1227.1 735.6,1227.4 739.7,1228.0C743.8,1228.6 747.9,1229.4 752.0,1230.1C756.1,1230.8 760.3,1231.4 764.4,1232.2C768.5,1233.0 772.7,1233.9 776.8,1234.8C780.9,1235.7 785.4,1236.8 789.1,1237.7C792.8,1238.6 795.3,1239.3 799.0,1240.1C802.7,1240.8 807.4,1241.7 811.5,1242.4C815.6,1243.1 819.8,1243.8 823.9,1244.5C828.0,1245.2 832.2,1246.0 836.4,1246.6C840.6,1247.2 844.7,1247.6 848.9,1248.0C853.1,1248.4 857.2,1248.8 861.4,1249.1C865.5,1249.3 869.6,1249.3 873.8,1249.5C877.9,1249.7 882.1,1249.9 886.3,1250.1C890.5,1250.3 894.6,1250.5 898.8,1250.7C902.9,1251.0 907.1,1251.2 911.2,1251.6C915.4,1251.9 919.5,1252.3 923.7,1252.8C927.9,1253.2 932.0,1253.7 936.2,1254.3C940.4,1254.9 944.6,1255.5 948.7,1256.3C952.9,1257.1 957.0,1258.0 961.1,1259.0C965.2,1260.0 969.4,1261.4 973.6,1262.6C977.8,1263.8 981.9,1265.0 986.1,1266.1C990.3,1267.2 994.5,1268.4 998.6,1269.4C1002.8,1270.4 1007.3,1271.4 1011.0,1272.3C1014.7,1273.2 1019.3,1274.4 1021.0,1274.8" stroke="#000000" stroke-width="3.5" stroke-linejoin="round" stroke-linecap="round" stroke-dasharray="10.6 6.7 3.6 6.7"/>
<path d="M139.0,1373.4C139.6,1372.5 140.7,1369.1 142.4,1367.8C144.1,1366.5 146.8,1365.1 149.1,1365.5C151.3,1365.9 153.7,1369.2 155.9,1370.0C158.2,1370.8 160.6,1371.5 162.6,1370.6C164.6,1369.7 166.5,1366.3 168.2,1364.4C169.9,1362.5 171.0,1361.0 172.7,1359.3C174.4,1357.6 176.4,1355.3 178.3,1354.3C180.2,1353.3 182.2,1353.8 183.9,1353.1C185.6,1352.3 186.9,1351.1 188.4,1349.8C189.9,1348.5 191.8,1347.0 192.9,1345.3C194.0,1343.6 194.4,1341.8 195.2,1339.7C195.9,1337.6 196.6,1335.5 197.4,1332.9C198.2,1330.3 199.3,1326.9 200.2,1323.9C201.1,1320.9 202.0,1317.7 203.0,1314.9C204.0,1312.1 205.1,1309.4 206.4,1307.1C207.7,1304.8 209.4,1302.5 210.9,1300.9C212.4,1299.3 213.9,1298.7 215.4,1297.5C216.9,1296.3 218.4,1295.2 219.9,1293.6C221.4,1292.0 222.9,1290.1 224.4,1288.0C225.9,1285.9 227.2,1283.5 228.9,1281.2C230.6,1278.9 232.6,1275.2 234.5,1273.9C236.4,1272.6 238.0,1273.3 240.1,1273.4C242.2,1273.5 245.0,1274.6 246.9,1274.5C248.8,1274.4 249.7,1273.5 251.4,1272.8C253.1,1272.0 255.1,1271.3 257.0,1270.0C258.9,1268.7 260.3,1266.1 262.6,1265.1C264.9,1264.0 268.4,1263.9 270.8,1263.7C273.2,1263.5 274.6,1264.7 277.0,1264.1C279.4,1263.5 282.9,1261.5 285.3,1260.0C287.7,1258.5 289.3,1256.3 291.4,1254.8C293.4,1253.2 295.5,1251.4 297.6,1250.7C299.7,1250.0 301.4,1250.2 303.8,1250.7C306.2,1251.2 309.6,1253.2 312.0,1253.4C314.4,1253.6 316.0,1252.1 318.2,1251.7C320.4,1251.3 323.0,1251.0 325.4,1251.3C327.8,1251.6 330.2,1252.9 332.6,1253.8C335.0,1254.7 337.4,1257.1 339.8,1256.9C342.2,1256.7 344.7,1254.3 347.1,1252.8C349.5,1251.3 352.3,1248.7 354.3,1248.0C356.3,1247.3 357.2,1248.1 359.0,1248.6C360.8,1249.0 363.1,1250.0 365.2,1250.7C367.3,1251.4 369.3,1252.6 371.4,1252.8C373.4,1253.0 375.4,1252.7 377.5,1251.7C379.6,1250.7 381.6,1248.3 383.7,1246.6C385.8,1244.9 387.8,1243.1 389.9,1241.4C392.0,1239.7 394.0,1238.0 396.1,1236.3C398.2,1234.6 400.2,1233.3 402.3,1231.1C404.4,1228.9 406.2,1225.6 408.4,1222.9C410.6,1220.2 413.2,1216.6 415.6,1214.7C418.0,1212.8 420.3,1212.3 422.9,1211.6C425.5,1210.9 428.4,1211.2 431.1,1210.5C433.8,1209.8 436.9,1208.1 439.3,1207.4C441.7,1206.7 443.1,1206.2 445.5,1206.4C447.9,1206.6 451.1,1207.5 453.8,1208.5C456.6,1209.5 459.3,1211.4 462.0,1212.2C464.7,1213.0 467.8,1213.0 470.2,1213.6C472.6,1214.2 474.0,1214.5 476.4,1215.7C478.8,1216.9 482.3,1219.7 484.7,1220.8C487.1,1221.9 488.4,1222.2 490.8,1222.5C493.2,1222.8 496.4,1222.4 499.1,1222.5C501.9,1222.6 504.6,1223.0 507.3,1223.3C510.1,1223.6 512.9,1224.3 515.6,1224.3C518.4,1224.3 521.4,1223.4 523.8,1223.5C526.2,1223.6 527.6,1224.1 530.0,1225.0C532.4,1225.9 535.5,1227.8 538.2,1228.7C541.0,1229.7 543.8,1230.3 546.5,1230.7C549.2,1231.1 552.0,1231.0 554.7,1231.1C557.4,1231.2 560.1,1231.2 562.9,1231.5C565.6,1231.8 568.5,1232.5 571.2,1232.6C573.9,1232.7 576.3,1232.1 579.0,1231.8C581.7,1231.6 584.5,1231.3 587.2,1231.1C590.0,1230.9 592.8,1231.0 595.5,1230.7C598.2,1230.4 601.0,1229.7 603.7,1229.1C606.5,1228.5 609.2,1227.6 612.0,1227.0C614.8,1226.4 617.5,1225.7 620.2,1225.4C622.9,1225.1 625.6,1225.1 628.4,1225.0C631.1,1224.9 634.0,1224.7 636.7,1225.0C639.5,1225.3 642.1,1226.0 644.9,1226.6C647.6,1227.2 650.5,1228.3 653.2,1228.7C656.0,1229.1 659.0,1228.7 661.4,1228.7C663.8,1228.7 665.2,1228.2 667.6,1228.5C670.0,1228.8 673.0,1230.3 675.8,1230.7C678.5,1231.1 681.4,1231.1 684.1,1231.1C686.9,1231.1 689.6,1230.3 692.3,1230.7C695.0,1231.1 697.8,1232.2 700.5,1233.2C703.2,1234.2 706.4,1235.9 708.8,1236.9C711.2,1237.9 712.6,1238.7 715.0,1239.0C717.4,1239.3 720.5,1238.8 723.2,1239.0C725.9,1239.2 728.6,1239.7 731.4,1240.4C734.1,1241.1 737.0,1242.3 739.7,1243.1C742.5,1243.9 745.1,1244.9 747.9,1245.1C750.6,1245.3 753.8,1244.7 756.2,1244.5C758.6,1244.3 760.2,1243.4 762.3,1243.9C764.3,1244.4 766.4,1246.1 768.5,1247.6C770.6,1249.1 772.5,1251.6 774.7,1252.8C776.9,1254.0 779.5,1254.6 781.9,1254.8C784.3,1255.0 786.9,1253.8 789.1,1254.2C791.3,1254.6 793.6,1256.2 795.3,1256.9C796.9,1257.6 797.4,1257.7 799.0,1258.5C800.6,1259.3 803.1,1261.1 805.2,1261.9C807.3,1262.8 809.4,1263.7 811.5,1263.6C813.6,1263.5 815.3,1262.6 817.7,1261.5C820.1,1260.4 823.6,1258.0 826.0,1257.0C828.4,1256.0 829.9,1255.9 832.3,1255.3C834.7,1254.7 838.2,1254.4 840.6,1253.2C843.0,1252.0 844.7,1249.8 846.8,1248.0C848.9,1246.2 850.6,1243.8 853.0,1242.4C855.4,1241.0 858.6,1240.4 861.4,1239.7C864.2,1239.0 867.3,1239.1 869.7,1238.2C872.1,1237.3 873.8,1235.5 875.9,1234.5C878.0,1233.5 880.0,1232.5 882.1,1232.4C884.2,1232.3 886.3,1233.2 888.4,1234.1C890.5,1235.0 892.2,1236.1 894.6,1237.6C897.0,1239.0 900.1,1240.9 902.9,1242.8C905.7,1244.7 908.8,1246.7 911.2,1249.1C913.6,1251.5 915.4,1254.3 917.5,1257.4C919.6,1260.5 921.3,1264.7 923.7,1267.8C926.1,1270.9 929.2,1274.3 932.0,1276.1C934.8,1277.9 937.9,1277.8 940.3,1278.6C942.7,1279.4 944.2,1279.4 946.6,1280.7C949.0,1282.0 952.1,1284.7 954.9,1286.5C957.7,1288.3 960.8,1290.7 963.2,1291.7C965.6,1292.7 967.3,1292.4 969.4,1292.3C971.5,1292.2 973.6,1290.8 975.7,1291.0C977.8,1291.2 979.8,1292.2 981.9,1293.7C984.0,1295.2 986.1,1298.4 988.2,1300.0C990.3,1301.6 992.3,1303.3 994.4,1303.1C996.5,1302.8 998.2,1300.9 1000.6,1298.5C1003.0,1296.1 1005.5,1291.0 1008.9,1288.6C1012.3,1286.2 1019.0,1284.8 1021.0,1284.0" stroke="#000000" stroke-width="3.5" stroke-linejoin="round" stroke-linecap="round"/>
<path d="M139.0,1332.4C139.9,1332.2 142.7,1332.1 144.6,1331.2C146.5,1330.3 148.3,1328.9 150.2,1327.3C152.1,1325.7 154.0,1324.0 155.9,1321.7C157.8,1319.5 159.8,1316.4 161.5,1313.8C163.2,1311.2 164.5,1308.7 166.0,1306.0C167.5,1303.3 169.0,1300.3 170.5,1297.5C172.0,1294.7 173.5,1291.9 175.0,1289.1C176.5,1286.3 177.9,1283.3 179.4,1280.7C180.9,1278.1 182.8,1275.2 183.9,1273.4C185.0,1271.6 185.4,1272.2 186.2,1270.0C186.9,1267.8 186.7,1264.1 188.4,1260.0C190.2,1255.9 193.9,1249.7 196.7,1245.6C199.4,1241.5 202.2,1238.6 204.9,1235.3C207.7,1232.0 210.4,1229.1 213.2,1226.0C215.9,1222.9 218.7,1219.6 221.4,1216.7C224.1,1213.8 226.8,1211.1 229.6,1208.5C232.3,1205.9 235.2,1203.5 237.9,1201.3C240.7,1199.1 243.3,1197.2 246.1,1195.1C248.8,1193.0 251.7,1190.7 254.4,1188.9C257.2,1187.1 259.9,1185.7 262.6,1184.2C265.3,1182.7 268.1,1181.3 270.8,1180.0C273.6,1178.7 276.4,1177.8 279.1,1176.5C281.9,1175.2 284.6,1173.6 287.3,1172.4C290.1,1171.2 292.9,1170.3 295.6,1169.3C298.4,1168.3 301.1,1167.2 303.8,1166.2C306.5,1165.2 309.2,1164.1 312.0,1163.2C314.8,1162.3 317.6,1161.7 320.3,1161.1C323.1,1160.5 325.8,1159.9 328.5,1159.4C331.2,1158.9 334.1,1158.5 336.8,1158.0C339.6,1157.5 342.3,1156.9 345.0,1156.6C347.7,1156.2 350.9,1156.1 353.2,1155.9C355.5,1155.7 356.0,1155.6 359.0,1155.6C362.0,1155.6 367.3,1155.5 371.4,1155.9C375.5,1156.3 379.6,1157.2 383.7,1158.0C387.8,1158.8 392.0,1159.7 396.1,1160.7C400.2,1161.7 404.3,1163.0 408.4,1164.2C412.5,1165.4 416.7,1166.5 420.8,1167.7C424.9,1168.9 429.1,1170.2 433.2,1171.4C437.3,1172.6 441.4,1173.9 445.5,1175.1C449.6,1176.3 453.8,1177.6 457.9,1178.6C462.0,1179.6 466.1,1180.5 470.2,1181.3C474.3,1182.1 479.2,1182.8 482.6,1183.3C486.0,1183.8 488.1,1184.5 490.8,1184.2C493.6,1183.9 495.7,1182.5 499.1,1181.7C502.5,1180.9 507.3,1180.1 511.4,1179.2C515.5,1178.3 519.7,1177.3 523.8,1176.5C527.9,1175.7 532.1,1175.1 536.2,1174.5C540.3,1173.9 544.4,1173.3 548.5,1173.0C552.6,1172.7 556.8,1172.8 560.9,1172.8C565.0,1172.8 570.2,1172.9 573.2,1173.0C576.2,1173.1 576.0,1173.0 579.0,1173.2C582.0,1173.5 587.3,1173.8 591.4,1174.5C595.5,1175.2 599.6,1176.2 603.7,1177.2C607.8,1178.2 612.0,1179.6 616.1,1180.7C620.2,1181.8 624.3,1183.0 628.4,1183.8C632.5,1184.6 636.7,1185.2 640.8,1185.8C644.9,1186.4 649.1,1187.1 653.2,1187.5C657.3,1187.9 661.4,1188.2 665.5,1188.3C669.6,1188.4 673.8,1188.4 677.9,1188.3C682.0,1188.2 686.1,1187.9 690.2,1187.5C694.3,1187.1 698.5,1186.3 702.6,1185.8C706.7,1185.2 710.9,1184.6 715.0,1184.2C719.1,1183.8 723.2,1183.5 727.3,1183.3C731.4,1183.0 735.6,1182.9 739.7,1182.7C743.8,1182.5 747.9,1182.3 752.0,1182.3C756.1,1182.3 760.3,1182.5 764.4,1182.7C768.5,1183.0 772.7,1183.3 776.8,1183.8C780.9,1184.2 785.4,1184.8 789.1,1185.4C792.8,1186.0 795.3,1186.7 799.0,1187.6C802.7,1188.5 807.4,1189.8 811.5,1190.9C815.6,1192.0 819.8,1193.0 823.9,1194.0C828.0,1195.0 832.2,1196.1 836.4,1197.1C840.6,1198.1 844.7,1199.3 848.9,1200.2C853.1,1201.1 857.2,1201.8 861.4,1202.3C865.5,1202.8 869.6,1202.9 873.8,1202.9C877.9,1202.9 882.1,1202.6 886.3,1202.3C890.5,1202.0 894.6,1201.5 898.8,1201.2C902.9,1200.9 907.1,1200.7 911.2,1200.4C915.4,1200.1 919.5,1199.8 923.7,1199.6C927.9,1199.4 932.0,1199.1 936.2,1199.2C940.4,1199.3 944.6,1199.8 948.7,1200.2C952.9,1200.6 957.0,1201.1 961.1,1201.7C965.2,1202.3 969.4,1203.0 973.6,1203.7C977.8,1204.4 981.9,1205.0 986.1,1205.8C990.3,1206.6 994.5,1207.5 998.6,1208.5C1002.8,1209.5 1007.3,1210.7 1011.0,1211.6C1014.7,1212.5 1019.3,1213.3 1021.0,1213.7" stroke="#0072bd" stroke-width="3.5" stroke-linejoin="round" stroke-linecap="round" stroke-dasharray="10.6 6.7 3.6 6.7"/>
<path d="M139.0,1312.7C139.8,1311.8 141.6,1309.1 143.5,1307.1C145.4,1305.1 148.1,1302.0 150.2,1300.6C152.3,1299.2 154.0,1300.2 155.9,1298.7C157.8,1297.2 160.0,1293.7 161.5,1291.9C163.0,1290.1 163.9,1289.8 164.8,1288.0C165.7,1286.2 166.2,1283.9 167.1,1281.2C167.9,1278.5 168.2,1276.1 169.9,1271.7C171.6,1267.3 174.7,1258.7 177.1,1254.8C179.5,1250.9 181.9,1250.5 184.3,1248.6C186.7,1246.7 189.1,1246.1 191.5,1243.5C193.9,1240.9 196.5,1236.5 198.7,1233.2C200.9,1229.9 202.8,1226.0 204.9,1223.9C207.0,1221.8 208.7,1221.6 211.1,1220.8C213.5,1220.0 216.9,1220.4 219.3,1219.2C221.7,1218.0 223.4,1215.4 225.5,1213.6C227.6,1211.8 229.6,1209.7 231.7,1208.5C233.8,1207.3 235.2,1206.8 237.9,1206.4C240.7,1206.1 245.3,1207.2 248.2,1206.4C251.1,1205.6 253.0,1203.5 255.4,1201.3C257.8,1199.1 260.0,1195.1 262.6,1193.0C265.2,1190.9 268.1,1189.8 270.8,1188.9C273.6,1188.0 276.7,1188.3 279.1,1187.5C281.5,1186.7 283.2,1185.5 285.3,1183.8C287.4,1182.1 289.3,1179.4 291.4,1177.6C293.4,1175.8 295.2,1174.0 297.6,1173.0C300.0,1172.0 303.5,1172.1 305.9,1171.8C308.3,1171.5 309.9,1172.3 312.0,1171.4C314.1,1170.5 316.0,1167.9 318.2,1166.2C320.4,1164.5 323.0,1161.6 325.4,1161.1C327.8,1160.6 330.2,1162.5 332.6,1163.2C335.0,1164.0 337.4,1165.6 339.8,1165.6C342.2,1165.6 344.9,1164.1 347.1,1163.2C349.3,1162.3 351.2,1160.6 353.2,1160.1C355.2,1159.6 357.0,1159.6 359.0,1160.1C361.0,1160.6 363.1,1162.4 365.2,1163.2C367.3,1164.0 369.0,1164.8 371.4,1164.8C373.8,1164.8 376.9,1163.5 379.6,1163.2C382.3,1162.9 385.1,1162.1 387.8,1162.7C390.6,1163.3 393.5,1165.9 396.1,1166.9C398.7,1167.9 400.6,1168.7 403.3,1168.9C406.1,1169.1 409.7,1168.0 412.6,1168.3C415.5,1168.5 418.1,1169.7 420.8,1170.4C423.5,1171.1 426.2,1171.9 429.0,1172.4C431.8,1172.9 434.6,1173.2 437.3,1173.5C440.1,1173.8 442.8,1173.2 445.5,1173.9C448.2,1174.6 451.1,1176.6 453.8,1177.6C456.6,1178.5 459.3,1179.1 462.0,1179.6C464.7,1180.1 467.4,1180.2 470.2,1180.7C472.9,1181.2 475.8,1182.0 478.5,1182.7C481.2,1183.4 483.9,1184.7 486.7,1184.8C489.4,1184.9 492.2,1183.6 495.0,1183.3C497.8,1183.0 500.5,1182.9 503.2,1182.7C505.9,1182.5 508.6,1182.3 511.4,1182.1C514.1,1181.9 517.0,1181.7 519.7,1181.3C522.5,1180.9 525.1,1180.1 527.9,1179.6C530.6,1179.0 533.5,1178.3 536.2,1178.0C539.0,1177.7 541.7,1177.7 544.4,1177.6C547.1,1177.5 549.9,1177.6 552.6,1177.6C555.4,1177.6 558.1,1177.4 560.9,1177.6C563.6,1177.8 566.1,1178.3 569.1,1178.6C572.1,1178.8 575.6,1178.8 579.0,1179.1C582.4,1179.4 585.9,1180.1 589.3,1180.7C592.7,1181.3 596.2,1182.0 599.6,1182.7C603.0,1183.4 606.5,1184.1 609.9,1184.8C613.3,1185.5 616.4,1186.1 620.2,1186.8C624.0,1187.5 628.8,1188.3 632.6,1188.9C636.4,1189.5 639.5,1189.8 642.9,1190.3C646.3,1190.8 649.4,1191.5 653.2,1192.0C657.0,1192.5 661.4,1192.7 665.5,1193.0C669.6,1193.3 674.1,1193.8 677.9,1194.1C681.7,1194.3 684.8,1194.6 688.2,1194.5C691.6,1194.4 695.4,1193.5 698.5,1193.6C701.6,1193.7 704.0,1194.5 706.7,1195.1C709.5,1195.7 712.2,1196.9 715.0,1197.1C717.8,1197.3 720.5,1196.4 723.2,1196.1C725.9,1195.8 728.6,1194.9 731.4,1195.1C734.1,1195.3 737.0,1196.2 739.7,1197.1C742.5,1197.9 745.5,1200.0 747.9,1200.2C750.3,1200.5 751.9,1199.1 754.1,1198.6C756.3,1198.1 758.9,1196.8 761.3,1197.1C763.7,1197.4 765.9,1199.1 768.5,1200.2C771.1,1201.3 774.0,1203.5 776.8,1203.9C779.5,1204.3 782.6,1203.2 785.0,1202.7C787.4,1202.2 788.9,1200.6 791.2,1200.6C793.5,1200.6 796.7,1201.6 799.0,1202.5C801.3,1203.4 803.1,1205.0 805.2,1205.8C807.3,1206.6 809.4,1207.2 811.5,1207.1C813.6,1207.0 815.5,1205.6 817.7,1205.0C820.0,1204.4 822.6,1203.3 825.0,1203.7C827.4,1204.1 829.7,1206.3 832.3,1207.5C834.9,1208.7 838.2,1210.3 840.6,1210.6C843.0,1210.9 844.4,1209.7 846.8,1209.1C849.2,1208.5 852.7,1207.4 855.1,1207.1C857.5,1206.8 859.0,1207.4 861.4,1207.5C863.8,1207.6 866.9,1208.1 869.7,1207.9C872.5,1207.7 875.6,1206.5 878.0,1206.4C880.4,1206.3 882.1,1206.4 884.2,1207.1C886.3,1207.8 888.4,1209.3 890.5,1210.6C892.6,1211.9 894.6,1213.6 896.7,1214.8C898.8,1216.0 900.5,1217.0 902.9,1217.9C905.3,1218.8 908.4,1219.1 911.2,1220.0C914.0,1220.9 917.2,1222.0 919.6,1223.1C922.0,1224.2 923.7,1225.8 925.8,1226.6C927.9,1227.4 929.9,1228.3 932.0,1227.9C934.1,1227.5 935.9,1225.5 938.3,1224.1C940.7,1222.7 944.0,1220.1 946.6,1219.5C949.2,1218.9 951.5,1220.1 953.9,1220.4C956.3,1220.8 958.7,1221.8 961.1,1221.6C963.5,1221.4 966.0,1220.3 968.4,1219.5C970.8,1218.7 973.5,1217.1 975.7,1216.8C978.0,1216.5 979.8,1216.9 981.9,1217.9C984.0,1219.0 986.0,1221.8 988.2,1223.1C990.5,1224.4 993.1,1225.8 995.4,1225.8C997.6,1225.8 999.5,1224.0 1001.7,1223.1C1004.0,1222.2 1006.6,1220.3 1008.9,1220.4C1011.1,1220.5 1013.2,1222.5 1015.2,1223.7C1017.2,1225.0 1020.0,1227.2 1021.0,1227.9" stroke="#0072bd" stroke-width="3.5" stroke-linejoin="round" stroke-linecap="round"/>
</g>
<path d="M227.6,1662.3 v-9 M227.6,1089.2 v9 M315.7,1662.3 v-9 M315.7,1089.2 v9 M403.8,1662.3 v-9 M403.8,1089.2 v9 M491.8,1662.3 v-9 M491.8,1089.2 v9 M579.9,1662.3 v-9 M579.9,1089.2 v9 M667.9,1662.3 v-9 M667.9,1089.2 v9 M756.0,1662.3 v-9 M756.0,1089.2 v9 M844.0,1662.3 v-9 M844.0,1089.2 v9 M932.1,1662.3 v-9 M932.1,1089.2 v9 M139.6,1160.8 h9 M1020.1,1160.8 h-9 M139.6,1232.5 h9 M1020.1,1232.5 h-9 M139.6,1304.1 h9 M1020.1,1304.1 h-9 M139.6,1375.8 h9 M1020.1,1375.8 h-9 M139.6,1447.4 h9 M1020.1,1447.4 h-9 M139.6,1519.0 h9 M1020.1,1519.0 h-9 M139.6,1590.7 h9 M1020.1,1590.7 h-9" stroke="#555" stroke-width="1.6" fill="none"/>
<path d="M138.7,1089.2 H1021.0 M138.7,1662.3 H1021.0" fill="none" stroke="#5e5e5e" stroke-width="1.8"/>
<path d="M139.6,1089.2 V1662.3 M1020.1,1089.2 V1662.3" fill="none" stroke="#858585" stroke-width="1.9"/>
<text x="227.6" y="1704.8" text-anchor="middle" font-family="Liberation Serif" font-weight="bold" font-size="35" fill="#262626">4</text>
<text x="403.8" y="1704.8" text-anchor="middle" font-family="Liberation Serif" font-weight="bold" font-size="35" fill="#262626">5</text>
<text x="579.9" y="1704.8" text-anchor="middle" font-family="Liberation Serif" font-weight="bold" font-size="35" fill="#262626">6</text>
<text x="756.0" y="1704.8" text-anchor="middle" font-family="Liberation Serif" font-weight="bold" font-size="35" fill="#262626">7</text>
<text x="932.1" y="1704.8" text-anchor="middle" font-family="Liberation Serif" font-weight="bold" font-size="35" fill="#262626">8</text>
<text x="127.8" y="1102.2" text-anchor="end" font-family="Liberation Serif" font-weight="bold" font-size="35" fill="#262626">0</text>
<text x="127.8" y="1173.8" text-anchor="end" font-family="Liberation Serif" font-weight="bold" font-size="35" fill="#262626">-5</text>
<text x="127.8" y="1245.5" text-anchor="end" font-family="Liberation Serif" font-weight="bold" font-size="35" fill="#262626">-10</text>
<text x="127.8" y="1317.1" text-anchor="end" font-family="Liberation Serif" font-weight="bold" font-size="35" fill="#262626">-15</text>
<text x="127.8" y="1388.8" text-anchor="end" font-family="Liberation Serif" font-weight="bold" font-size="35" fill="#262626">-20</text>
<text x="127.8" y="1460.4" text-anchor="end" font-family="Liberation Serif" font-weight="bold" font-size="35" fill="#262626">-25</text>
<text x="127.8" y="1532.0" text-anchor="end" font-family="Liberation Serif" font-weight="bold" font-size="35" fill="#262626">-30</text>
<text x="127.8" y="1603.7" text-anchor="end" font-family="Liberation Serif" font-weight="bold" font-size="35" fill="#262626">-35</text>
<text x="127.8" y="1675.3" text-anchor="end" font-family="Liberation Serif" font-weight="bold" font-size="35" fill="#262626">-40</text>
<text x="579.9" y="1745" text-anchor="middle" font-family="Liberation Serif" font-weight="bold" font-size="35" fill="#262626">Frequency (GHz)</text>
<text transform="translate(49.8,1376.8) rotate(-90)" text-anchor="middle" font-family="Liberation Serif" font-weight="bold" font-size="35" fill="#262626">dB</text>
<text x="546" y="1794.6" text-anchor="middle" font-family="Liberation Serif" font-weight="bold" font-size="35" fill="#000">(b)</text>
</svg>
</body></html>
